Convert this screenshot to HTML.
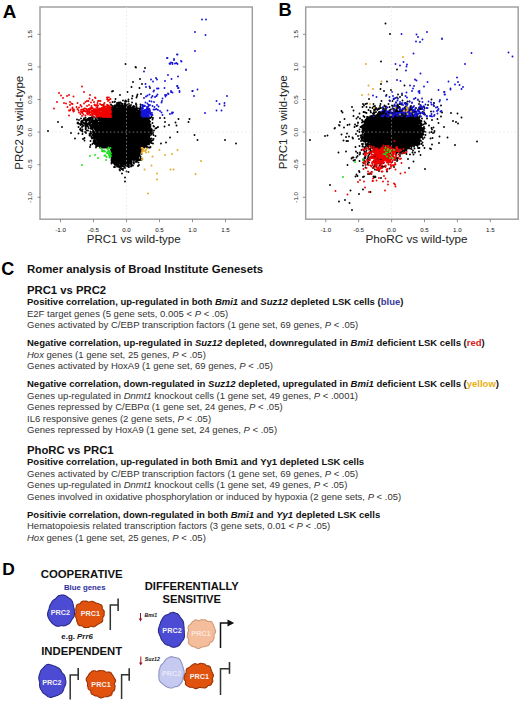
<!DOCTYPE html>
<html><head><meta charset="utf-8"><style>
html,body{margin:0;padding:0;background:#fff;}
body{width:520px;height:702px;position:relative;overflow:hidden;font-family:"Liberation Sans", sans-serif;}
svg.fig{position:absolute;left:0;top:0;font-family:"Liberation Sans", sans-serif;}
.l{position:absolute;left:27px;white-space:nowrap;line-height:1;color:#222;}
.l.h{font-size:11.3px;font-weight:bold;color:#111;}
.l.b{font-size:9.5px;font-weight:bold;color:#111;}
.l.r{font-size:9.5px;color:#333;}
.ttl{position:absolute;left:27px;top:263.85px;font-size:11.4px;font-weight:bold;line-height:1;white-space:nowrap;color:#111;}
</style></head><body>
<svg class="fig" width="520" height="702" viewBox="0 0 520 702"><rect x="40.0" y="7" width="212.3" height="212.2" fill="none" stroke="#9e9e9e" stroke-width="1.45"/><line x1="126.5" y1="7" x2="126.5" y2="219.2" stroke="#e2e2e2" stroke-width="0.8" stroke-dasharray="1.5,2.3"/><line x1="40.0" y1="132.1" x2="252.3" y2="132.1" stroke="#e2e2e2" stroke-width="0.8" stroke-dasharray="1.5,2.3"/><rect x="305.7" y="7" width="212.50000000000006" height="212.2" fill="none" stroke="#9e9e9e" stroke-width="1.45"/><line x1="391.6" y1="7" x2="391.6" y2="219.2" stroke="#e2e2e2" stroke-width="0.8" stroke-dasharray="1.5,2.3"/><line x1="305.7" y1="132.1" x2="518.2" y2="132.1" stroke="#e2e2e2" stroke-width="0.8" stroke-dasharray="1.5,2.3"/><path d="M116 105h4v1h-4zM125 105h1v1h-1zM115 106h1v1h-1zM117 106h6v1h-6zM124 106h1v1h-1zM129 106h1v1h-1zM112 107h1v1h-1zM114 107h1v1h-1zM118 107h7v1h-7zM128 107h3v1h-3zM133 107h1v1h-1zM112 108h4v1h-4zM117 108h9v1h-9zM127 108h8v1h-8zM136 108h1v1h-1zM112 109h22v1h-22zM112 110h23v1h-23zM112 111h23v1h-23zM138 111h2v1h-2zM112 112h24v1h-24zM137 112h3v1h-3zM112 113h17v1h-17zM130 113h11v1h-11zM112 114h16v1h-16zM131 114h10v1h-10zM112 115h17v1h-17zM130 115h10v1h-10zM112 116h28v1h-28zM111 117h30v1h-30zM89 118h1v1h-1zM98 118h47v1h-47zM146 118h1v1h-1zM88 119h2v1h-2zM99 119h49v1h-49zM86 120h1v1h-1zM92 120h1v1h-1zM95 120h1v1h-1zM100 120h48v1h-48zM91 121h6v1h-6zM101 121h48v1h-48zM89 122h1v1h-1zM92 122h6v1h-6zM100 122h43v1h-43zM145 122h4v1h-4zM86 123h1v1h-1zM93 123h49v1h-49zM146 123h1v1h-1zM148 123h1v1h-1zM85 124h3v1h-3zM93 124h50v1h-50zM145 124h1v1h-1zM149 124h1v1h-1zM85 125h1v1h-1zM92 125h55v1h-55zM148 125h2v1h-2zM91 126h55v1h-55zM147 126h2v1h-2zM92 127h1v1h-1zM94 127h51v1h-51zM148 127h2v1h-2zM95 128h51v1h-51zM147 128h3v1h-3zM96 129h55v1h-55zM96 130h55v1h-55zM93 131h1v1h-1zM95 131h56v1h-56zM94 132h56v1h-56zM151 132h1v1h-1zM90 133h1v1h-1zM94 133h55v1h-55zM94 134h55v1h-55zM93 135h56v1h-56zM94 136h55v1h-55zM94 137h55v1h-55zM96 138h53v1h-53zM97 139h53v1h-53zM94 140h1v1h-1zM97 140h52v1h-52zM94 141h1v1h-1zM98 141h52v1h-52zM94 142h2v1h-2zM97 142h52v1h-52zM96 143h52v1h-52zM97 144h50v1h-50zM99 145h47v1h-47zM100 146h45v1h-45zM111 147h31v1h-31zM112 148h29v1h-29zM112 149h29v1h-29zM112 150h29v1h-29zM112 151h28v1h-28zM112 152h28v1h-28zM112 153h27v1h-27zM112 154h27v1h-27zM112 155h27v1h-27zM112 156h26v1h-26zM112 157h26v1h-26zM112 158h23v1h-23zM136 158h1v1h-1zM112 159h20v1h-20zM137 159h1v1h-1zM112 160h19v1h-19zM137 160h1v1h-1zM113 161h18v1h-18zM114 162h17v1h-17zM115 163h4v1h-4zM120 163h9v1h-9zM116 164h2v1h-2zM121 164h2v1h-2zM125 164h3v1h-3zM117 165h2v1h-2zM120 165h1v1h-1zM127 165h2v1h-2z" fill="#000"/><path d="M104.5 117h0M117.5 166h0M123 168.5h0M98 138.5h0M99 119.5h0M94 136h0M133 159h0M148.5 134.5h0M147.5 144h0M106 147.5h0M111.5 151.5h0M107 118h0M138.5 153.5h0M99.5 146h0M111.5 108.5h0M144.5 117h0M131 164h0M141.5 117h0M112 146.5h0M98.5 145h0M106 147h0M94 132h0M127.5 115.5h0M146.5 119h0M143.5 122h0M142.5 125.5h0M111 111h0M143 121.5h0M146 130h0M132 102.5h0M124 163.5h0M102.5 118h0M151.5 138.5h0M148.5 119.5h0M98.5 117h0M132.5 159.5h0M108.5 147h0M104 118.5h0M110.5 118h0M136.5 107h0M126.5 110h0M137.5 113h0M149 141.5h0M108.5 118.5h0M110.5 146h0M119.5 169.5h0M150 147.5h0M135 111.5h0M136.5 110.5h0M132 159.5h0M92 122h0M146.5 122.5h0M137.5 155.5h0M129.5 115h0M112 155h0M135.5 158h0M143.5 124.5h0M124.5 167h0M111 104.5h0M149.5 129.5h0M141.5 124.5h0M146.5 122h0M149 139.5h0M128 107h0M112 159.5h0M137.5 157.5h0M134.5 159h0M101.5 121.5h0M111.5 113.5h0M130.5 116.5h0M93 130.5h0M116 109.5h0M143 124h0M93 125h0M131 115.5h0M95 140.5h0M94.5 137.5h0M140 111.5h0M111 147.5h0M131 108.5h0M94 142h0M130.5 160.5h0M107 118.5h0M120 166h0M111 118h0M116 162h0M112 109h0M121 165.5h0M148.5 133.5h0M136 110.5h0M123 107h0M132.5 165.5h0M145.5 129h0M143 147.5h0M144.5 125h0M108 118h0M111.5 115.5h0M111.5 110.5h0M149.5 138h0M147.5 119h0M127.5 114.5h0M125 163h0M145.5 126h0M95.5 128h0M140 113.5h0M112.5 158.5h0M105.5 146h0M149.5 140h0M117.5 166.5h0M141 149h0M92.5 119h0M134 107.5h0M146.5 147h0M132 98.5h0M95 144h0M150 132.5h0M130.5 108h0M139.5 151h0M100.5 123.5h0M138 154h0M112.5 148.5h0M146.5 123h0M96.5 131.5h0M93.5 132.5h0M141.5 154h0M151.5 133h0M112.5 115.5h0M119.5 105h0M141.5 124h0M101 119h0M114.5 105.5h0M132.5 108.5h0M125.5 164h0M149.5 129h0M95 137.5h0M112.5 147h0M104 147h0M135 113.5h0M128.5 164h0M138.5 162.5h0M118.5 109h0M113 149h0M144 122.5h0M119.5 162.5h0M144 145.5h0M149 138.5h0M144.5 122h0M112 117.5h0M114.5 162h0M146.5 125.5h0M101.5 121h0M129.5 115.5h0M111 108h0M106 146.5h0M148.5 135.5h0M138 154.5h0M129 116.5h0M101 122.5h0M141 117.5h0M141 160h0M97.5 146h0M120 170.5h0M113 108h0M138.5 159h0M134 163h0M111.5 160.5h0M119 162.5h0M150.5 125h0M148.5 133h0M150.5 147h0M93.5 132h0M150 125.5h0M102.5 146.5h0M139.5 153.5h0M142.5 123h0M144 145h0M125.5 109.5h0M140.5 149h0M147 146.5h0M147 130h0M134.5 108.5h0M142.5 124.5h0M93.5 135h0M123.5 164.5h0M148.5 140h0M147.5 121h0M142.5 118h0M147.5 127.5h0M152 131.5h0M117.5 105.5h0M105 146.5h0M146 145h0M122.5 107.5h0M95 127.5h0M134 160h0M131 159h0M93.5 141h0M98.5 118.5h0M98 141.5h0M110 118h0M110 117h0M94.5 136.5h0M134 161h0M112.5 159h0M125 101.5h0M108.5 147.5h0M141 150.5h0M101.5 120.5h0M135.5 111h0M148.5 132.5h0M126.5 171.5h0M127 114h0M114.5 108.5h0M130.5 117h0M111 109.5h0M149 126h0M130.5 163h0M89.5 135.5h0M145.5 128h0M121 106.5h0M118.5 162.5h0M127 114.5h0M149.5 128h0M137 159.5h0M96.5 139h0M139 111h0M142 117.5h0M116 164h0M140.5 111.5h0M112 156h0M113 110h0M107.5 119h0M127.5 163h0M144 121h0M106.5 147.5h0M112 150h0M125.5 108h0M118.5 164h0M114 107h0M107 147h0M128.5 112.5h0M144.5 121.5h0M148 133.5h0M134.5 112.5h0M138 160h0M96 138h0M127 107.5h0M127 115.5h0M95.5 131.5h0M149.5 134h0M97 143h0M148 125.5h0M103 118h0M113 150.5h0M144 125h0M140 118.5h0M111.5 148h0M130.5 161.5h0M140.5 148h0M140 111h0M92 127.5h0M112.5 157.5h0M141 122.5h0M97 145h0M109 146.5h0M121 164.5h0M144.5 147.5h0M129 104h0M145.5 125.5h0M98 146h0M112 112h0M145 122h0M129.5 163h0M133.5 109.5h0M112.5 102h0M130.5 115.5h0M129 165.5h0M107.5 117.5h0M146 124h0M99.5 144.5h0M125 107h0M100 122.5h0M125 104h0M131 161h0M128.5 162.5h0M139.5 117h0M154 126.5h0M130.5 108.5h0M148.5 124.5h0M116 105.5h0M149 144.5h0M92.5 138h0M112 149h0M96.5 128h0M108 117.5h0M111 156h0M104.5 147.5h0M151 132h0M110 147h0M133 107h0M115 106h0M101 120.5h0M150.5 133h0M120.5 102.5h0M138 111h0M105.5 118.5h0M141.5 147.5h0M150 135.5h0M131.5 159.5h0M112.5 113.5h0M128 106.5h0M144 147.5h0M142 118.5h0M136 112.5h0M96 141h0M134.5 110.5h0M99.5 119.5h0M149 144h0M120 163.5h0M105.5 147.5h0M93 127h0M119 107h0M110 146h0M94 140h0M143 118.5h0M124 106h0M111 150h0M148 143.5h0M97 140.5h0M93.5 134.5h0M136 104.5h0M93.5 133h0M106 118.5h0M140 108.5h0M148 126.5h0M127 110h0M126.5 101h0M146 122.5h0M127.5 109h0M108.5 118h0M97 140h0M128.5 106.5h0M131.5 115h0M116 106.5h0M139 154h0M153 143.5h0M142.5 123.5h0M149.5 122.5h0M108 147h0M118.5 165h0M115 109h0M102.5 119h0M149 125.5h0M112 110h0M112 113h0M145 128.5h0M150.5 127h0M112 109.5h0M140.5 115.5h0M136.5 113.5h0M92.5 135h0M107.5 147h0M131 113h0M118 164h0M97.5 122h0M96 143.5h0M146 129.5h0M147 144.5h0M140 149.5h0M92 129h0M141.5 146.5h0M112.5 113h0M105.5 117.5h0M130.5 114.5h0M134.5 111.5h0M104 146.5h0M112.5 156.5h0M149 139h0M121.5 169h0M113.5 162h0M141.5 118.5h0M149.5 121h0M121.5 106h0M147.5 143h0M132 108.5h0M153.5 139h0M96 144h0M121 167.5h0M95 142h0M112.5 108.5h0M111.5 149h0M101 118.5h0M114 162h0M112.5 153h0M118 107h0M100 120.5h0M147 123h0M140.5 114h0M101.5 122h0M111.5 162.5h0M129.5 162.5h0M96 129.5h0M111.5 112.5h0M128.5 114h0M151 129.5h0M129.5 106h0M122.5 104h0M111.5 150.5h0M107.5 146.5h0M106.5 147h0M94 138h0M120 163h0M112 150.5h0M148.5 121h0M125 164.5h0M144 126.5h0M137.5 111h0M130.5 162h0M147.5 118.5h0M113 147.5h0M111 154h0M89.5 134h0M101 123h0M148.5 137h0M142.5 147h0M100 117.5h0M111.5 159h0M131 161.5h0M114 161h0M134 110.5h0M135.5 112.5h0M130 106h0M143.5 121h0M109.5 146.5h0M117 109h0M136 113.5h0M151.5 141h0M100 146h0M104.5 147h0M128 108.5h0M129.5 112.5h0M139 110.5h0M146.5 128.5h0M120 102.5h0M140.5 115h0M149.5 133.5h0M148.5 139.5h0M95.5 130h0M140.5 109h0M140.5 152.5h0M111.5 116.5h0M149.5 124.5h0M144.5 127h0M126.5 165.5h0M129 115h0M125.5 164.5h0M106 117.5h0M150 129h0M141.5 123h0M148.5 142.5h0M150 126h0M140 152h0M94.5 135h0M100 120h0M117 103h0M139.5 150.5h0M112.5 152.5h0M126 101.5h0M136.5 161.5h0M111.5 153.5h0M139.5 160h0M131.5 113h0M101 122h0M129 112.5h0M100 119h0M151 132.5h0M131.5 113.5h0M111.5 150h0M115 106.5h0M132.5 107h0M146 124.5h0M139.5 152.5h0M92 126.5h0M141 152.5h0M152 130h0M112.5 151.5h0M112 153.5h0M102 147.5h0M144.5 146.5h0M100 147.5h0M111.5 114h0M120.5 163.5h0M99.5 117.5h0M92.5 144h0M112.5 151h0M118.5 102.5h0M128.5 115h0M139.5 114.5h0M92 120.5h0M128.5 167h0M98.5 119.5h0M136 158h0M91 132h0M136.5 161h0M114 167h0M96 146h0M107.5 118h0M153 133h0M143.5 119h0M124 166.5h0M128 113h0M127 108h0M111.5 163.5h0M149 132.5h0M91.5 136.5h0M109.5 147.5h0M151.5 134.5h0M96.5 143h0M138 113h0M116.5 165h0M96.5 138h0M114.5 107h0M94.5 136h0M142 124.5h0M110.5 119h0M127.5 164.5h0M120.5 164.5h0M98 117.5h0M107 146h0M147 118h0M91.5 137h0M133.5 106h0M130.5 107h0M144 122h0M111.5 147h0M95.5 129.5h0M138.5 112.5h0M141 148.5h0M95 126.5h0M111.5 148.5h0M146 123h0M149 138h0M131.5 162h0M102.5 147h0M137 156h0M114.5 164h0M92 124.5h0M149.5 136h0M127 164h0M121 166.5h0M127.5 166h0M112.5 150.5h0M94.5 139.5h0M112.5 111h0M137 110h0M144 118.5h0M131.5 161.5h0M129 106h0M136.5 107.5h0M122.5 163.5h0M126.5 105h0M143.5 146.5h0M97.5 122.5h0M145.5 144h0M98 142.5h0M147.5 142.5h0M147.5 123.5h0M140 116h0M140.5 150h0M136 110h0M131 115h0M112.5 161.5h0M114.5 163h0M127 104.5h0M131 112.5h0M122.5 165.5h0M101.5 147.5h0M113 159h0M141 150h0M134.5 112h0M127.5 113.5h0M113 160.5h0M147 126h0M119 167h0M103.5 147.5h0M153.5 135h0M148 128h0M112.5 150h0M131 113.5h0M105 147h0M136.5 110h0M125 103.5h0M127 165.5h0M138.5 111.5h0M142 125h0M145.5 119h0M121.5 165h0M112 111.5h0M137.5 114h0M128.5 107.5h0M140 152.5h0M121 163.5h0M124.5 104h0M110 146.5h0M139.5 155.5h0M96 147.5h0M122.5 166h0M135 110.5h0M91.5 127h0M120.5 165.5h0M127 163.5h0M144.5 128.5h0M136 113h0M111.5 157h0M144 118h0M116 107h0M112 148h0M120.5 162.5h0M98.5 144.5h0M91.5 117.5h0M154 130.5h0M132 114.5h0M102.5 147.5h0M116.5 110h0M118.5 107h0M148.5 117.5h0M133 159.5h0M126.5 109h0M142.5 118.5h0M147 128.5h0M147 129.5h0M118.5 104.5h0M112 114h0M96 138.5h0M135.5 108.5h0M112.5 152h0M130 162.5h0M145.5 128.5h0M131.5 115.5h0M150 139.5h0M112 147h0M139.5 154h0M148.5 142h0M110.5 117h0M148 134.5h0M147.5 122h0M141 116.5h0M129.5 116.5h0M142 146.5h0M140.5 116.5h0M116.5 164.5h0M138.5 156h0M145.5 122h0M134 158.5h0M127 108.5h0M103.5 118.5h0M136 158.5h0M95 134h0M137 113.5h0M109 147h0M128.5 114.5h0M138.5 157h0M125 105.5h0M102 121h0M139 115h0M138 156.5h0M155.5 128.5h0M149 133.5h0M134 112h0M120.5 163h0M145.5 129.5h0M112 154h0M144 147h0M137.5 112.5h0M99.5 124h0M145 124h0M102 119h0M134.5 106.5h0M131.5 160h0M131.5 161h0M143.5 122.5h0M108.5 117.5h0M145.5 126.5h0M111.5 154h0M146 143.5h0M101.5 147h0M104.5 146h0M149.5 121.5h0M127.5 107h0M122 105.5h0M124 107.5h0M150.5 124.5h0M149.5 126.5h0M136 160h0M98 123h0M127.5 113h0M117.5 106h0M93.5 121h0M120 105h0M128 117h0M131.5 114h0M138 156h0M115 164h0M125 168h0M99.5 144h0M111.5 160h0M112.5 162.5h0M149 140.5h0M123 170h0M141 118.5h0M116.5 164h0M143.5 121.5h0M91.5 137.5h0M147.5 126.5h0M119 106h0M125 164h0M97.5 140h0M122.5 105h0M146 128.5h0M139.5 109h0M131 108h0M112 160.5h0M112.5 110.5h0M134 110h0M113.5 108h0M138.5 160h0M97 123.5h0M146 144h0M124.5 108.5h0M137 108.5h0M112.5 116h0M141.5 151h0M113 155h0M136 161h0M113 161.5h0M150.5 140h0M133.5 159.5h0M111.5 115h0M146.5 146h0M144.5 127.5h0M121.5 105.5h0M152 132.5h0M96.5 131h0M113 112.5h0M152.5 119.5h0M145 146h0M100 123.5h0M94.5 142h0M137.5 156h0M132 165.5h0M149 120h0M113 117.5h0M143 122h0M149 147.5h0M106 146h0M93.5 122.5h0M139 155.5h0M97 121h0M144 128.5h0M97.5 142.5h0M98.5 123h0M107 117.5h0M110.5 117.5h0M107.5 147.5h0M137.5 112h0M125.5 163.5h0M96 131.5h0M122.5 163h0M146 118.5h0M114 163.5h0M147 121.5h0M131 116.5h0M145.5 124h0M111.5 152h0M103 119h0M120 107h0M116.5 109.5h0M130 116.5h0M99.5 123.5h0M100.5 118.5h0M147 126.5h0M130.5 160h0M111.5 147.5h0M136 159.5h0M112.5 155h0M129 165h0M127.5 115h0M140.5 119h0M133 108.5h0M116 108h0M134 109.5h0M137 157.5h0M140.5 158h0M145 117h0M131.5 164.5h0M127 109.5h0M115 165h0M90.5 145h0M139 155h0M131 165h0M140 112h0M148.5 121.5h0M105.5 117h0M140.5 150.5h0M135 112h0M128.5 166h0M95 132h0M150 139h0M144 127h0M119.5 106h0M139 153h0M97.5 144.5h0M139.5 154.5h0M99.5 145.5h0M112 152.5h0M126 108.5h0M112.5 108h0M142 126h0M117 166h0M110.5 147h0M148.5 127.5h0M142.5 124h0M95.5 120.5h0M125 106.5h0M121.5 164.5h0M148.5 123.5h0M109.5 118h0M114.5 108h0M108 117h0M92 127h0M98.5 142.5h0M139.5 116.5h0M149 122h0M117 104.5h0M94 138.5h0M153 132.5h0M149.5 132h0M99.5 120.5h0M148 126h0M98.5 143h0M111 119h0M95.5 141h0M145 145.5h0M137.5 108.5h0M124 108.5h0M123.5 163h0M120.5 168h0M129 162h0M130.5 115h0M148 117h0M92.5 122.5h0M132 115.5h0M134 159.5h0M131 160h0M130 112.5h0M134.5 158h0M111 147h0M147.5 147.5h0M144 117h0M98.5 123.5h0M111.5 117.5h0M131.5 114.5h0M142.5 121.5h0M111 117h0M112.5 106h0M131.5 160.5h0M96.5 120h0M112 117h0M112.5 147.5h0M111 118.5h0M115.5 106.5h0M146.5 123.5h0M103.5 146.5h0M140 150.5h0M115 108h0M91 133.5h0M129.5 113h0M125 106h0M99.5 118.5h0M126.5 109.5h0M112 151h0M116.5 104.5h0M140.5 118h0M149.5 135h0M125.5 106.5h0M112 112.5h0M144 124.5h0M136.5 158.5h0M151.5 143h0M116 163h0M112.5 115h0M97 130h0M118 108.5h0M149.5 126h0M126 104.5h0M133 165.5h0M92.5 124.5h0M94 143h0M93.5 136.5h0M96 132h0M124.5 107.5h0M150 142.5h0M97.5 121h0M144 128h0M153 140h0M140 114h0M142 123.5h0M133.5 162.5h0M145.5 145h0M113 107.5h0M141 123.5h0M122.5 105.5h0M112.5 149h0M151.5 117h0M114 161.5h0M125.5 165.5h0M150.5 130.5h0M112 111h0M148.5 132h0M144.5 119h0M134 163.5h0M128.5 101.5h0M97.5 139.5h0M140 148.5h0M129 167h0M143 147h0M138.5 154.5h0M120 162h0M111.5 105.5h0M111 149.5h0M112.5 149.5h0M98 122.5h0M117 164.5h0M117.5 108.5h0M119.5 104h0M112.5 148h0M144.5 147h0M133 108h0M122 164.5h0M144 146.5h0M121.5 103.5h0M143.5 117.5h0M127.5 108h0M90.5 141h0M118 165.5h0M139.5 151.5h0M108 147.5h0M136 103.5h0M166 142.5h0M136.5 105h0M115 167h0M127.5 163.5h0M141 159h0M140.5 107h0M151 139h0M122 164h0M101 147h0M125 181.5h0M132.5 96h0M93.5 143h0M151.5 130.5h0M156.5 128h0M150 121.5h0M90.5 126h0M149.5 127h0M153 118h0M119 106.5h0M138 166h0M145.5 125h0M131 166.5h0M135.5 110.5h0M113 91h0M86 124h0M127.5 165h0M164.5 126.5h0M131 105h0M136 108.5h0M123 164h0M115.5 99h0M122 173.5h0M136 162h0M123 100.5h0M139 165h0M113 157h0M103 146.5h0M90 135.5h0M122 106.5h0M105.5 118h0M85.5 127h0M129 163h0M112.5 160h0M128.5 172h0M150 142h0M147 117.5h0M87.5 119.5h0M141 115h0M117 166.5h0M128.5 99.5h0M123.5 107.5h0M148.5 136.5h0M112 152h0M131.5 87h0M100 122h0M94 141h0M131.5 163h0M115 101.5h0M151.5 129h0M136.5 160.5h0M137 96h0M101.5 122.5h0M160 118h0M99 123h0M112.5 159.5h0M94 117h0M93.5 117.5h0M138 158h0M147 124h0M145 118.5h0M152.5 123h0M112 157.5h0M165 122h0M95.5 121h0M113 116.5h0M86 133h0M84.5 140.5h0M125.5 100.5h0M90 121.5h0M111.5 113h0M158 127h0M98.5 141h0M164.5 118h0M155.5 136h0M112.5 107h0M140.5 156.5h0M147 142h0M105 118.5h0M139 116.5h0M128.5 117h0M153.5 126h0M148.5 120h0M90 147h0M125 177.5h0M127.5 92h0M150 124.5h0M117 163h0M137 161.5h0M130 107h0M91.5 133.5h0M111.5 110h0M106 117h0M106.5 117h0M101.5 117.5h0M101.5 117h0M105 117h0M114.5 102h0M111.5 108h0M112 108h0M112.5 116.5h0M110 118.5h0M111 115.5h0M104 117.5h0M109 118.5h0M111 113.5h0M110 117.5h0M112 116.5h0M112.5 114h0M111.5 111.5h0M111.5 109h0M112.5 114.5h0M111.5 117h0M106.5 117.5h0M112 91.5h0M102.5 117h0M112 116h0M103.5 117.5h0M97 117.5h0M100.5 119h0M94 121.5h0M97 122h0M89 118h0M102 118.5h0M88 126.5h0M88.5 128h0M83 126h0M87 120.5h0M98.5 118h0M88 120h0M86 123h0M92.5 121h0M90 123h0M93 122.5h0M88.5 124h0M94 124h0M86 119.5h0M79 120h0M98 118.5h0M92 121h0M89.5 121h0M90 125.5h0M95.5 118.5h0M90 118h0M99 118.5h0M90.5 126.5h0M96 122h0M85.5 126h0M92 118h0M93.5 123h0M85.5 121h0M89 122.5h0M92.5 128.5h0M85 123h0M90.5 118h0M93.5 120.5h0M78 122.5h0M92.5 121.5h0M88.5 119h0M93.5 133.5h0M91.5 120.5h0M92 128h0M92.5 125h0M90.5 125h0M96.5 117.5h0M92.5 125.5h0M91.5 121h0M109.5 117.5h0M95.5 119.5h0M83 120.5h0M95 127h0M96.5 120.5h0M87.5 124.5h0M88 130.5h0M94 126.5h0M102 117h0M81.5 121h0M94.5 126.5h0M90 119.5h0M93 121h0M98.5 119h0M87 123.5h0M92 117h0M84 118.5h0M90.5 123h0M93.5 125.5h0M85 124h0M91 121.5h0M95 120.5h0M100.5 117.5h0M98.5 120h0M89.5 118h0M106.5 118h0M85.5 117.5h0M82.5 121.5h0M93.5 127.5h0M85.5 125.5h0M101 121.5h0M100.5 119.5h0M87 124.5h0M96.5 122.5h0M78.5 127h0M87 125h0M99 123.5h0M102 117.5h0M90.5 131.5h0M78 123.5h0M85.5 129h0M81 118.5h0M81 122h0M90 134.5h0M87 126h0M80.5 128.5h0M82.5 131.5h0M86.5 122h0M89.5 125h0M94 131.5h0M78.5 123.5h0M85 132h0M96 121.5h0M77 119.5h0M92 138.5h0M80.5 125h0M75 138.5h0M94.5 129h0M90.5 119.5h0M82.5 134h0M80 129.5h0M84.5 138h0M81 130.5h0M82 124.5h0M90.5 128.5h0M81 124.5h0M84.5 119.5h0M81.5 123.5h0M90.5 132h0M85 120h0M92.5 132h0M78.5 133.5h0M82 127h0M84 123.5h0M86.5 130.5h0M83 122.5h0M82.5 129.5h0M83.5 125.5h0M77.5 123h0M83.5 120h0M87.5 119h0M141 113.5h0M139.5 114h0M141 108.5h0M143 117.5h0M141 115.5h0M140.5 106.5h0M145.5 118h0M141.5 114.5h0M139.5 110h0M147.5 117.5h0M144.5 117.5h0M146.5 120h0M140.5 104.5h0M139 108.5h0M150 117.5h0M141 112h0M140 112.5h0M149.5 118h0M150.5 118h0M143 117h0M150 118h0M140 116.5h0M192.5 91h0M136 67.5h0M140 79h0M142 84h0M139.5 88h0M137.5 94.5h0M141 94h0M136.5 97.5h0M178.5 119h0M175.5 122.5h0M176.5 125.5h0M189.5 119h0M188.5 122h0M169 125h0M177.5 132h0M194.5 135h0M197.5 140h0M170 137.5h0M161 143.5h0M225 140h0M236 143.5h0M125.5 64h0M135.5 67h0M48 131h0M62 127h0M58 122h0M71 133h0M80 124h0M83 139h0M86 128h0M145 68h0M133 82h0M120 95h0M150 88h0" stroke="#000" stroke-width="1.9" stroke-linecap="round" fill="none"/><path d="M102 105h1v1h-1zM107 106h2v1h-2zM107 107h3v1h-3zM102 108h1v1h-1zM104 108h1v1h-1zM106 108h4v1h-4zM99 109h1v1h-1zM101 109h9v1h-9zM94 110h1v1h-1zM98 110h1v1h-1zM102 110h8v1h-8zM93 111h1v1h-1zM97 111h2v1h-2zM102 111h8v1h-8zM94 112h1v1h-1zM96 112h4v1h-4zM101 112h9v1h-9zM95 113h15v1h-15zM96 114h14v1h-14zM96 115h14v1h-14z" fill="#f00000"/><path d="M102.5 113h0M103.5 116.5h0M109.5 113.5h0M101.5 113.5h0M104.5 109.5h0M109 106h0M107 116.5h0M107.5 116.5h0M107.5 117h0M109.5 108.5h0M105.5 115h0M101 116h0M108.5 107h0M97.5 115.5h0M109.5 112.5h0M110.5 112h0M98.5 110h0M109 114h0M102.5 111h0M110.5 114.5h0M111 115.5h0M108 115h0M105.5 116h0M108 116.5h0M106.5 116.5h0M110 111h0M109.5 113h0M110.5 111.5h0M105 117h0M101 112.5h0M110 107.5h0M110 112.5h0M110.5 113h0M104.5 106.5h0M110 113h0M104.5 117h0M109.5 111h0M109 115.5h0M104 116.5h0M100 110h0M99.5 115.5h0M107.5 108.5h0M105 107h0M110 113.5h0M102 116.5h0M110.5 116.5h0M102.5 116.5h0M96.5 117h0M100.5 116.5h0M110.5 116h0M105.5 116.5h0M98 116h0M110.5 107h0M110 110h0M107 108.5h0M109.5 114h0M109.5 115h0M110.5 108h0M110.5 109h0M110 112h0M109 110.5h0M104.5 110h0M110 115h0M100 112.5h0M106 109.5h0M109 117h0M103 116h0M93.5 117h0M106 115h0M106 115.5h0M110 108.5h0M109 115h0M106 116.5h0M110 109.5h0M111 117h0M107.5 116h0M107 117h0M111 111.5h0M108.5 115.5h0M99.5 116h0M103 117h0M109.5 115.5h0M103 105.5h0M96.5 115.5h0M102 110.5h0M106.5 109h0M103.5 115.5h0M103 107.5h0M110 116h0M110.5 108.5h0M111 112.5h0M108.5 117h0M109.5 111.5h0M109 116.5h0M110 116.5h0M101 115h0M110.5 113.5h0M92 111.5h0M97.5 107h0M100 113h0M106.5 117h0M107.5 97.5h0M107.5 105h0M95.5 98h0M95 109.5h0M100.5 113.5h0M85.5 115.5h0M103.5 116h0M95.5 105.5h0M102 110h0M108.5 100h0M92 113.5h0M102 116h0M95 111h0M95 105h0M98 116.5h0M96.5 113h0M81 112h0M109.5 116h0M110.5 115h0M108 101h0M95.5 114.5h0M100.5 101h0M90.5 108h0M108.5 116.5h0M86 111h0M107.5 107.5h0M101.5 108h0M94.5 104.5h0M110.5 117h0M110 107h0M104.5 116h0M98 105.5h0M99 113.5h0M54 108.5h0M107 107.5h0M85.5 111.5h0M74 109.5h0M99.5 113.5h0M98 115h0M93 108.5h0M103 107h0M82.5 113h0M97.5 116h0M103 109.5h0M107.5 108h0M104.5 115.5h0M97.5 103h0M66 103.5h0M97 105h0M103.5 106h0M86.5 111.5h0M109 105.5h0M71.5 103.5h0M93.5 111.5h0M77.5 109h0M96 110.5h0M73 110.5h0M96.5 111h0M84.5 111h0M102.5 110.5h0M98 110h0M99 111h0M109 114.5h0M100 109.5h0M64 103h0M83.5 114.5h0M92 107.5h0M98 111h0M109 97.5h0M98 111.5h0M74 111h0M104 109h0M104 104h0M67.5 107h0M109 100h0M97 113.5h0M102.5 110h0M109.5 110h0M110 115.5h0M107.5 106h0M83.5 110.5h0M109 108.5h0M88 113h0M98 101h0M104.5 108h0M97 111h0M87 113.5h0M108 115.5h0M94 110h0M93.5 113.5h0M86.5 109h0M111 106.5h0M87 101h0M102.5 116h0M110 102.5h0M81.5 106.5h0M89.5 110h0M93 110.5h0M101 113h0M90 112h0M111 111h0M106.5 116h0M95 109h0M104.5 103h0M79 107.5h0M83.5 111h0M101.5 105h0M91.5 106h0M93 111.5h0M70 105h0M90 108.5h0M82.5 112h0M88.5 109h0M102 105h0M99 109h0M105.5 115.5h0M92 108h0M100.5 112.5h0M105.5 109h0M98 112.5h0M72.5 107.5h0M97.5 110.5h0M99.5 112.5h0M94 113h0M89.5 113h0M100.5 109.5h0M104 116h0M96.5 110h0M99 116h0M100.5 113h0M110.5 115.5h0M101 110h0M105 116.5h0M99 110.5h0M106 110h0M88 113.5h0M70 110.5h0M87 112h0M90.5 115h0M94 113.5h0M103.5 105.5h0M99 109.5h0M102 113h0M89.5 98.5h0M109 108h0M106 116h0M111 116.5h0M92.5 115h0M101.5 116h0M91.5 112.5h0M88 111h0M111 112h0M69 110.5h0M109 111h0M91.5 110.5h0M107.5 107h0M100 113.5h0M84 109h0M95.5 109.5h0M85.5 102h0M101.5 110.5h0M104 109.5h0M102.5 115.5h0M96.5 116h0M103.5 109.5h0M100 112h0M109.5 110.5h0M107 106.5h0M100 104h0M81 111.5h0M82 109.5h0M93 115h0M97.5 108.5h0M103.5 115h0M89 105h0M85 108.5h0M84.5 108.5h0M90.5 112.5h0M102.5 109.5h0M95 112.5h0M94 102h0M105.5 110h0M107 107h0M81 110h0M83 109.5h0M96.5 107.5h0M102 112.5h0M99.5 108.5h0M102.5 105h0M92.5 100h0M90.5 109h0M101 108.5h0M91 102.5h0M107 97.5h0M87.5 110.5h0M103 108.5h0M105 108.5h0M110.5 99h0M84 103.5h0M107 105h0M89.5 112h0M103 111.5h0M94.5 105h0M105 116h0M107 108h0M90 115h0M109.5 114.5h0M95.5 112.5h0M72.5 108.5h0M79 112.5h0M105.5 106.5h0M110.5 114h0M87 106h0M106 109h0M96 115.5h0M92 115h0M96 114.5h0M95 114.5h0M100.5 115.5h0M88 114.5h0M98.5 115h0M82 116h0M80.5 114h0M82 86.5h0M84 92h0M59 93h0M61 95.5h0M63 98h0M67 96h0M69 95h0M73.5 96.5h0M57 102h0M90 95h0M95 97.5h0M99 101h0M107 99h0M70 102h0M72.5 104h0M77.5 103h0M80.5 105h0M88.5 101h0M70.5 109.5h0M73.5 111.5h0M69 115.5h0M76.5 107h0M78.5 110.5h0" stroke="#f00000" stroke-width="1.9" stroke-linecap="round" fill="none"/><path d="M147 108h1v1h-1zM146 109h3v1h-3zM144 110h6v1h-6zM142 111h8v1h-8zM143 112h7v1h-7zM142 113h5v1h-5zM150 113h1v1h-1zM142 114h4v1h-4zM142 115h5v1h-5z" fill="#1414d8"/><path d="M146.5 115.5h0M142.5 112h0M146 116h0M145 116.5h0M146 114.5h0M146 115.5h0M142 112h0M148 116h0M142.5 110.5h0M150.5 112.5h0M142 116h0M142 115.5h0M142.5 115h0M142.5 116.5h0M143.5 106.5h0M146.5 115h0M142 115h0M142 112.5h0M142 113.5h0M147 115.5h0M143.5 116.5h0M143 113.5h0M142 110.5h0M143.5 116h0M141.5 115h0M142.5 111.5h0M148.5 114h0M143.5 113.5h0M155 109.5h0M144.5 110h0M147 107h0M148.5 117h0M145.5 114.5h0M143 116.5h0M148.5 112.5h0M149 109h0M145 114h0M144.5 111h0M150.5 114.5h0M148.5 109h0M146.5 116h0M147.5 113h0M141.5 108.5h0M150 112.5h0M148 116.5h0M150.5 113h0M144.5 115.5h0M143 114h0M148.5 106.5h0M147.5 112.5h0M142.5 113h0M146 109.5h0M153.5 109.5h0M144 116h0M150 113.5h0M152 113h0M141.5 110.5h0M146 113h0M143 112h0M150 110.5h0M143.5 112h0M148.5 110h0M148 108.5h0M147 108.5h0M149.5 109h0M149 110h0M142.5 116h0M147 115h0M150 111.5h0M146 116.5h0M146.5 114h0M149 116h0M142 105h0M142.5 114.5h0M146.5 113h0M145.5 110.5h0M148 115.5h0M145.5 113.5h0M145 115.5h0M151.5 115h0M149.5 111h0M147.5 109h0M143.5 111.5h0M147 108h0M145.5 116h0M145 106h0M148 113h0M144 111h0M143 108.5h0M144 105.5h0M145 110.5h0M145.5 114h0M144 116.5h0M146.5 111h0M142.5 107h0M141.5 114h0M145.5 115h0M143.5 111h0M142.5 105h0M142 108h0M152.5 115h0M147.5 107.5h0M145 111.5h0M148.5 113h0M147.5 108h0M148.5 105h0M202 19.5h0M206 19.5h0M195 32h0M205.5 35h0M195 51h0M177 54.5h0M167 58h0M174 60h0M170 64h0M172.5 64h0M176.5 63h0M181 61h0M186 69.5h0M192.5 91h0M197.5 89.5h0M194 96h0M227 96h0M216.5 101h0M219.5 104h0M224.5 103h0M224.5 105.5h0M216.5 110.5h0M221.5 110.5h0M205 113h0M172 112.5h0M170 114h0M178 88h0M179.5 91h0M177.5 86h0M171 92h0M168 93.5h0M165 95h0M177.5 54.5h0M167.5 58h0M174 59h0M181.5 61.5h0M169.5 63.5h0M171 62.5h0M172.5 63h0M175 63.5h0M177.5 64h0M186 70h0M144 71.5h0M168 75h0M178 76.5h0M156 78h0M157 79.5h0M151 79.5h0M153 81.5h0M171.5 79h0M165 81h0M145.5 84h0M149.5 86.5h0M146 87h0M157 88.5h0M158.5 88.5h0M164.5 88h0M177 86h0M178.5 88h0M154 90.5h0M153.5 91.5h0M171 91h0M172.5 92.5h0M179.5 92h0M168.5 94h0M166.5 95h0M165.5 96.5h0M149.5 94.5h0M147.5 95.5h0M146 96.5h0M144 98h0M157.5 94.5h0M156.5 96h0M155 97h0M162.5 98.5h0M162 101h0M161.5 102.5h0M152.5 96h0M151.5 97.5h0M149.5 101h0M151.5 101.5h0M154 102h0M145.5 102.5h0M147.5 103.5h0M150 105h0M152.5 106h0M154.5 107h0M156.5 109h0M158 110h0M160 111h0M161.5 112.5h0M157 105h0M158.5 106.5h0M167.5 110.5h0M173 112.5h0M172 113.5h0M162.5 115h0" stroke="#1414d8" stroke-width="1.9" stroke-linecap="round" fill="none"/><path d="M106 160h0M102 150h0M104 150.5h0M109.5 157.5h0M110 153h0M109.5 153h0M109.5 156h0M104.5 155.5h0M106.5 157h0M109.5 151.5h0M100.5 148h0M107.5 152h0M111 156h0M109 150.5h0M107.5 149.5h0M105 151.5h0M108.5 147.5h0M110.5 148h0M111 153.5h0M110.5 155.5h0M103 151.5h0M102 151h0M108 148.5h0M108.5 153.5h0M109 151h0M110.5 153h0M110 157h0M105.5 155.5h0M107 153h0M98 158h0M107.5 149h0M109 155h0M110 155.5h0M109 154h0M90 156h0M95 155h0M82 165h0" stroke="#18e018" stroke-width="1.9" stroke-linecap="round" fill="none"/><path d="M142 148h0M141.5 153h0M142 151.5h0M141.5 153.5h0M143.5 149h0M147 148.5h0M142.5 158.5h0M142 159.5h0M142.5 150h0M146 150h0M146 152.5h0M142.5 151h0M142.5 159.5h0M141.5 148h0M142 153.5h0M143 151h0M142.5 148h0M143 149.5h0M142 151h0M145 151h0M148.5 152h0M159.5 150h0M165 155h0M172 154h0M177.5 150h0M151.5 165.5h0M144.5 169.5h0M157 173.5h0M157 179.5h0M170.5 169.5h0M173.5 169.5h0M195.5 174h0M201 161h0M148 193.5h0M152.5 156.5h0" stroke="#e4a820" stroke-width="1.9" stroke-linecap="round" fill="none"/><path d="M396 110h1v1h-1zM410 110h1v1h-1zM384 111h1v1h-1zM389 111h1v1h-1zM396 111h2v1h-2zM384 112h2v1h-2zM387 112h4v1h-4zM395 112h5v1h-5zM403 112h1v1h-1zM405 112h2v1h-2zM379 113h2v1h-2zM385 113h9v1h-9zM395 113h4v1h-4zM402 113h1v1h-1zM406 113h4v1h-4zM379 114h4v1h-4zM384 114h9v1h-9zM396 114h4v1h-4zM401 114h2v1h-2zM407 114h4v1h-4zM373 115h1v1h-1zM378 115h16v1h-16zM395 115h9v1h-9zM406 115h4v1h-4zM371 116h40v1h-40zM369 117h3v1h-3zM373 117h42v1h-42zM368 118h3v1h-3zM374 118h42v1h-42zM417 118h1v1h-1zM367 119h5v1h-5zM373 119h46v1h-46zM366 120h54v1h-54zM365 121h56v1h-56zM365 122h55v1h-55zM366 123h52v1h-52zM420 123h1v1h-1zM367 124h50v1h-50zM421 124h1v1h-1zM364 125h1v1h-1zM366 125h52v1h-52zM420 125h1v1h-1zM362 126h58v1h-58zM362 127h59v1h-59zM363 128h59v1h-59zM423 128h1v1h-1zM363 129h60v1h-60zM363 130h60v1h-60zM362 131h61v1h-61zM364 132h58v1h-58zM365 133h58v1h-58zM365 134h58v1h-58zM365 135h57v1h-57zM365 136h57v1h-57zM364 137h56v1h-56zM364 138h55v1h-55zM365 139h54v1h-54zM364 140h55v1h-55zM365 141h1v1h-1zM368 141h50v1h-50zM369 142h49v1h-49zM370 143h49v1h-49zM367 144h1v1h-1zM369 144h45v1h-45zM417 144h1v1h-1zM367 145h1v1h-1zM370 145h40v1h-40zM411 145h1v1h-1zM371 146h11v1h-11zM383 146h26v1h-26zM374 147h2v1h-2zM377 147h4v1h-4zM385 147h22v1h-22zM380 148h1v1h-1zM386 148h7v1h-7zM395 148h4v1h-4zM400 148h6v1h-6zM381 149h1v1h-1zM387 149h5v1h-5zM396 149h2v1h-2zM402 149h3v1h-3zM388 150h2v1h-2zM396 150h1v1h-1zM384 151h1v1h-1zM387 151h2v1h-2zM375 152h1v1h-1zM378 152h1v1h-1zM383 152h1v1h-1zM387 152h1v1h-1zM391 153h1v1h-1zM372 157h1v1h-1zM386 157h1v1h-1z" fill="#000"/><path d="M417.5 140h0M409.5 116h0M371 120h0M395.5 115.5h0M365.5 136h0M371 116.5h0M417.5 141h0M390.5 152.5h0M368.5 148h0M414 146h0M362.5 125.5h0M404 115.5h0M368 146h0M378.5 116.5h0M385.5 114.5h0M374.5 119.5h0M373 147h0M360.5 127h0M375 118.5h0M424 128.5h0M407 116.5h0M400.5 112.5h0M413.5 143h0M406 111.5h0M413 116h0M382 114.5h0M417.5 126h0M412 113.5h0M404 116.5h0M419 142h0M373 113.5h0M389 112.5h0M365 134.5h0M402 148.5h0M393.5 116.5h0M417 143h0M388.5 150.5h0M364.5 126.5h0M363.5 126h0M374.5 117.5h0M417.5 118h0M387.5 151h0M394 115h0M399 147.5h0M398.5 114h0M418.5 142h0M367 125.5h0M374 115h0M419 137.5h0M407.5 147h0M412.5 144h0M380 112h0M406 116.5h0M389 111.5h0M409.5 146h0M364 141.5h0M414 116.5h0M373.5 113.5h0M363 131h0M418.5 125h0M393 115.5h0M369 141.5h0M384.5 148h0M405.5 116h0M423 133.5h0M363 121.5h0M412.5 114.5h0M363 132h0M394 148h0M421.5 144h0M371.5 120h0M379 116h0M377 116.5h0M382.5 114h0M402.5 150.5h0M421 137h0M364.5 132h0M378.5 147.5h0M405.5 115h0M370 117.5h0M420 120.5h0M413.5 144.5h0M398 112.5h0M380.5 114h0M423.5 124.5h0M405.5 115.5h0M420 140.5h0M410 115h0M378.5 114h0M376.5 116.5h0M419.5 143h0M366.5 124h0M365.5 137h0M381 113h0M366 125.5h0M418.5 141.5h0M364 121.5h0M417 124h0M416 144h0M378 151h0M414 146.5h0M402 153.5h0M419 144h0M368.5 119.5h0M407 116h0M423.5 129.5h0M368.5 148.5h0M418 126h0M368.5 141.5h0M384 147.5h0M370 120h0M382.5 145.5h0M365 133h0M371 121h0M361.5 135.5h0M364.5 138.5h0M420.5 120.5h0M418.5 137.5h0M399.5 111.5h0M365.5 138.5h0M389 152h0M404 153h0M382.5 112.5h0M417.5 123.5h0M383 153h0M417.5 145.5h0M412.5 145.5h0M421.5 135.5h0M416 125.5h0M370 142.5h0M415 144h0M397.5 149h0M385.5 148h0M368.5 118h0M417.5 126.5h0M383 111.5h0M419.5 126h0M421.5 123.5h0M394 116.5h0M402.5 113h0M374.5 120h0M395 149h0M380 108h0M362.5 132.5h0M364 132h0M373 115.5h0M411.5 149h0M368 125h0M418 120h0M422 133h0M383 147h0M421 141h0M396 148.5h0M385 113h0M415.5 119h0M408 146.5h0M403 116h0M365.5 136.5h0M395 149.5h0M423 139h0M368.5 142h0M417 126h0M379.5 149h0M410.5 117.5h0M415 117.5h0M381.5 114.5h0M375.5 147h0M400.5 114.5h0M387.5 112h0M379.5 114.5h0M394 113.5h0M395.5 116.5h0M366 135.5h0M391 150h0M375 119.5h0M370 144.5h0M414.5 143.5h0M419.5 120.5h0M423 128.5h0M378.5 152h0M363 127h0M381 145.5h0M419.5 139h0M416.5 118.5h0M366.5 123h0M419 126h0M399 113h0M370.5 143h0M396 114.5h0M408 148.5h0M421.5 121h0M421 126h0M374 115.5h0M368 117h0M370 146h0M423.5 128h0M364 140.5h0M364.5 125.5h0M400.5 149.5h0M384 146h0M415.5 144h0M375.5 149.5h0M412 118h0M400 112.5h0M367.5 140h0M370.5 119h0M381.5 149h0M392.5 149.5h0M411 117h0M381 115h0M396 114h0M367 125h0M371.5 119.5h0M417.5 115.5h0M420.5 122.5h0M410.5 116h0M365.5 132.5h0M421 135.5h0M383 145.5h0M419 137h0M380 148h0M407.5 114.5h0M399.5 115.5h0M364 127h0M374.5 113h0M419 141.5h0M422.5 128.5h0M418.5 125.5h0M383.5 147.5h0M417 144h0M411.5 116h0M409.5 145h0M365 125h0M420 136.5h0M385 150h0M418.5 120.5h0M376 115.5h0M402 149.5h0M367.5 145.5h0M363.5 127.5h0M366 141h0M408 145h0M404 151h0M403 149.5h0M402 115h0M392 150.5h0M366.5 126h0M400.5 116h0M381 147h0M367.5 124h0M398 149h0M399.5 148.5h0M372.5 119.5h0M381.5 145.5h0M416 124.5h0M419 123h0M367 120.5h0M373.5 115.5h0M373 117.5h0M417.5 141.5h0M420 125.5h0M405.5 147.5h0M374.5 148.5h0M392.5 113h0M394.5 116.5h0M374 119h0M413 150.5h0M419 122h0M387 148.5h0M391.5 112h0M413.5 143.5h0M364.5 117h0M372.5 117h0M403 150.5h0M400.5 115h0M386.5 147.5h0M421.5 132.5h0M410.5 144.5h0M420 136h0M371 119.5h0M374 118.5h0M409.5 114.5h0M364 139h0M363 128.5h0M392 113.5h0M403.5 114h0M381 146.5h0M416.5 144h0M420.5 137h0M371 112.5h0M395 116h0M387.5 113.5h0M424.5 137.5h0M416 145h0M366 132.5h0M416 125h0M398 149.5h0M409.5 117h0M408.5 147.5h0M385 149h0M418.5 126h0M417 144.5h0M396.5 112.5h0M375 117.5h0M400 147h0M397 150.5h0M375 120h0M379 148.5h0M409 148h0M423 132.5h0M390.5 110.5h0M362.5 138h0M371.5 119h0M418 123h0M400.5 148h0M396 115.5h0M388 111.5h0M366.5 145h0M367 124h0M417.5 125.5h0M406 113.5h0M382.5 145h0M368 143.5h0M371.5 116h0M366.5 119h0M377.5 148h0M385 112.5h0M368.5 145h0M371.5 116.5h0M406 150h0M406.5 151h0M362.5 129h0M377.5 115.5h0M387 149h0M364 130.5h0M364 135.5h0M373.5 121h0M361.5 126.5h0M383 115h0M411 145h0M382.5 149.5h0M365.5 140h0M425.5 135h0M419 139h0M390 113h0M392 148h0M424 127h0M422 118.5h0M413.5 145.5h0M371 120.5h0M366.5 126.5h0M396 116h0M416.5 120h0M363.5 129h0M364 132.5h0M380 150h0M367.5 123h0M369 142.5h0M399.5 114.5h0M406 116h0M364 124.5h0M417 125h0M417.5 142h0M395.5 116h0M385 146.5h0M410.5 145h0M382.5 114.5h0M364.5 122.5h0M362.5 137h0M405 116.5h0M398.5 148h0M386 149h0M407 147h0M406.5 146h0M373.5 113h0M416 124h0M390 152.5h0M396 113.5h0M403.5 116.5h0M395 150.5h0M417.5 119.5h0M367.5 144.5h0M364.5 132.5h0M362 135h0M414.5 144h0M375.5 116h0M412.5 116.5h0M416 119h0M366 141.5h0M393 148.5h0M364.5 133.5h0M415.5 143.5h0M409.5 145.5h0M414 117h0M362 122.5h0M384.5 146.5h0M394.5 117h0M374.5 116h0M392.5 148.5h0M407 113h0M417 126.5h0M366 136h0M388 113h0M419.5 144h0M411 114.5h0M400.5 115.5h0M418.5 123h0M404.5 148.5h0M384 113h0M375.5 116.5h0M421.5 132h0M418.5 140.5h0M399.5 111h0M374.5 116.5h0M365 122.5h0M379.5 115.5h0M365.5 127h0M396 148h0M365.5 121h0M404.5 115h0M386 146h0M364.5 141h0M406 115.5h0M411.5 144h0M376 147.5h0M361 137.5h0M418.5 120h0M373 119h0M422.5 138h0M364.5 126h0M365 147h0M371 118h0M393.5 147.5h0M390 149.5h0M418 124.5h0M369 145h0M420.5 127.5h0M363 138.5h0M361.5 139h0M420.5 128.5h0M406.5 115.5h0M363.5 137h0M386 108.5h0M414 117.5h0M417 123h0M374.5 118h0M365.5 137.5h0M371 143h0M367.5 141.5h0M421 136.5h0M377 147h0M386 114h0M395.5 113.5h0M417 145h0M395 151.5h0M376 146.5h0M373.5 118h0M394 115.5h0M362.5 134.5h0M393 114.5h0M413.5 117.5h0M363 130.5h0M421 127.5h0M403.5 149.5h0M373 147.5h0M419 138h0M384 115h0M368.5 118.5h0M412 145.5h0M362.5 137.5h0M367 123h0M384.5 115.5h0M395.5 148h0M382 115.5h0M422 128h0M422.5 142.5h0M406.5 115h0M368.5 140h0M421 130h0M416 115h0M371.5 147h0M421 132.5h0M418.5 138h0M396.5 111h0M369.5 141.5h0M422 125h0M368 120h0M408 146h0M380.5 147.5h0M404.5 117h0M365.5 139.5h0M410 116h0M379 115h0M365 137h0M395 116.5h0M368 119.5h0M420.5 121h0M423.5 134.5h0M391 149.5h0M405 115h0M401 115.5h0M370.5 120h0M377.5 148.5h0M415.5 117.5h0M393 113.5h0M370.5 146h0M401.5 115h0M416.5 124h0M378.5 114.5h0M407 111.5h0M376.5 148h0M364 135h0M405 115.5h0M404.5 116h0M416.5 125.5h0M395 115.5h0M364 125.5h0M375 117h0M381.5 146h0M381 114h0M386.5 147h0M367.5 120h0M422.5 130h0M423 134h0M400 152h0M420.5 124h0M392 113h0M373 119.5h0M366.5 121h0M374.5 117h0M374 116.5h0M424 131h0M365.5 144h0M375 147.5h0M377 115h0M412 146h0M367 140h0M394.5 148.5h0M368 146.5h0M367.5 118h0M371 148h0M420 121.5h0M406.5 149h0M365 133.5h0M414.5 145h0M374 147h0M374.5 146.5h0M399 148.5h0M365 132.5h0M370.5 116.5h0M417.5 122.5h0M406.5 146.5h0M406 146.5h0M419 119h0M368.5 142.5h0M393 113h0M383 146.5h0M422.5 131h0M387.5 148.5h0M365.5 142h0M408.5 146.5h0M418 117h0M366 134h0M374 112h0M411.5 147h0M373.5 118.5h0M364 125h0M420.5 140.5h0M390 114h0M394 112.5h0M370 116.5h0M364.5 121.5h0M367.5 124.5h0M409 146.5h0M391 150.5h0M410 146h0M385 147.5h0M377.5 110h0M371.5 118h0M378 115.5h0M398.5 113h0M418.5 122.5h0M408 147h0M419 148h0M386.5 148.5h0M420.5 155h0M420 122.5h0M392 155h0M389 149.5h0M359.5 129.5h0M347.5 125h0M359.5 161h0M424.5 114h0M417.5 146h0M363 104h0M384.5 105.5h0M383.5 158h0M356 134h0M380.5 112.5h0M383 109.5h0M404 113h0M402 152.5h0M393 108.5h0M339.5 125.5h0M362 127.5h0M422 135.5h0M374.5 152h0M363 137.5h0M369 145.5h0M394.5 147.5h0M365 123.5h0M424.5 148h0M403 115.5h0M341.5 111h0M401 112h0M395.5 154.5h0M327.5 135.5h0M380 152.5h0M414 116h0M353.5 116h0M404.5 115.5h0M360 154h0M358 136h0M421 128.5h0M400 97h0M362.5 144.5h0M362.5 140.5h0M409 168h0M406.5 112.5h0M399.5 104h0M419 104h0M379.5 112h0M382 149.5h0M356.5 118.5h0M431.5 128h0M347 133.5h0M375 109h0M357.5 156h0M358 123h0M352.5 157.5h0M424.5 121.5h0M374 155.5h0M421 106.5h0M382 159h0M371 119h0M363 146.5h0M400 151h0M364 105.5h0M405.5 148.5h0M410 148.5h0M378 113.5h0M359.5 146h0M419 144.5h0M429 125.5h0M363.5 112h0M419 151.5h0M415 152.5h0M420 116h0M358 117h0M419.5 148h0M339 125h0M376.5 155.5h0M334.5 128.5h0M366 146h0M349.5 124.5h0M420 123.5h0M367 117h0M391.5 148.5h0M369 99h0M357.5 131h0M365.5 120h0M407.5 101.5h0M364.5 161.5h0M404.5 116.5h0M419.5 101.5h0M340 122h0M434 106h0M379 160.5h0M398 107.5h0M394 109h0M376 108h0M378.5 148.5h0M430.5 138.5h0M418 127h0M355 124.5h0M432.5 138h0M397.5 152.5h0M420 138h0M420 113h0M363.5 163h0M385.5 113.5h0M410 110h0M444 127h0M370 145h0M423 145.5h0M344.5 119h0M425.5 123h0M360.5 135.5h0M397 108h0M392 115.5h0M418.5 137h0M369.5 149h0M441 105.5h0M344 127.5h0M359 139h0M389.5 112.5h0M389 113h0M346.5 141h0M431 149h0M420 128.5h0M413.5 154.5h0M361 141h0M363.5 116h0M355.5 147h0M382 146.5h0M401.5 110h0M379 109h0M392 153h0M366.5 107h0M354.5 127h0M371 117.5h0M422 136.5h0M425.5 132h0M423.5 131.5h0M382.5 150h0M417 118.5h0M362 120h0M425 169h0M413 117h0M410.5 115.5h0M425 114.5h0M412.5 152.5h0M418.5 144h0M374.5 157.5h0M349 136.5h0M380.5 104h0M434 132.5h0M414.5 148.5h0M348 141h0M387.5 153.5h0M439 143h0M364 150.5h0M343.5 140.5h0M356 151.5h0M395 109.5h0M427 118.5h0M419.5 117.5h0M396 102.5h0M384.5 114.5h0M397 150h0M360 118.5h0M358 122.5h0M357.5 125.5h0M408 159h0M364.5 152h0M389.5 150h0M352.5 137.5h0M461.5 117.5h0M359.5 132h0M363.5 131h0M447.5 137.5h0M352 107h0M371 151h0M369 162.5h0M346 137h0M367 103.5h0M380 147.5h0M404.5 151h0M367 144h0M407.5 115.5h0M431.5 132h0M377.5 147h0M407 110h0M410 154.5h0M362 131.5h0M388.5 104h0M402.5 152.5h0M341.5 134.5h0M413.5 161.5h0M388.5 149.5h0M426 123.5h0M370 118.5h0M398 111.5h0M430 148.5h0M405.5 103h0M418 148h0M383 146h0M408 112.5h0M380.5 89h0M391.5 150.5h0M429.5 132.5h0M364 129.5h0M384.5 110.5h0M362 144h0M433 133h0M425 123.5h0M416.5 116.5h0M385.5 149h0M388.5 162.5h0M356.5 126h0M383.5 115h0M396.5 150h0M395.5 112h0M424.5 128.5h0M353 138.5h0M406.5 154h0M368 160h0M386.5 153h0M405 149.5h0M396.5 158.5h0M369.5 174h0M382.5 153h0M392 149h0M362.5 146.5h0M365 153h0M392.5 154h0M387.5 157h0M398 152h0M375.5 154.5h0M379.5 162.5h0M370.5 192h0M387 149.5h0M390.5 153.5h0M379.5 151.5h0M381.5 152.5h0M381 150h0M379 155.5h0M370.5 150.5h0M384 153.5h0M364.5 148h0M389.5 158.5h0M368 157h0M375.5 154h0M392 152h0M384 154h0M397 161h0M373 168h0M383.5 151h0M385.5 150h0M371 152h0M364 176.5h0M369.5 154h0M368.5 146h0M371.5 151.5h0M383 160h0M389.5 161.5h0M381.5 152h0M378.5 153h0M397.5 148.5h0M375 176.5h0M382.5 159.5h0M388 151.5h0M383.5 163h0M386 156.5h0M374 158h0M389.5 168.5h0M390.5 154.5h0M405.5 149h0M367.5 164.5h0M365.5 157h0M389 159h0M400 154h0M374 177.5h0M374 146.5h0M360 152.5h0M393 147.5h0M376.5 165.5h0M363 177h0M378 151.5h0M383.5 148h0M375.5 151.5h0M368.5 157.5h0M387 147.5h0M361.5 150h0M378.5 160.5h0M384 153h0M381 167.5h0M359.5 172h0M349.5 203h0M359 171h0M397 158h0M394 167h0M374 150.5h0M373 158h0M377.5 149h0M377.5 149.5h0M376.5 153h0M372 158h0M371 157.5h0M370.5 152.5h0M377 152.5h0M374.5 152.5h0M376.5 166h0M387 155.5h0M396.5 153h0M387.5 148h0M373.5 150.5h0M365 157h0M381 178h0M363 189.5h0M386 147h0M383.5 152.5h0M382 145.5h0M400 152.5h0M400 156h0M378 152.5h0M380 147h0M386.5 149h0M373.5 150h0M375.5 177h0M387 151.5h0M338.5 152.5h0M366 148.5h0M380 154.5h0M363 159.5h0M368 174h0M374 166.5h0M393.5 148.5h0M365 158.5h0M393.5 151h0M398 158h0M375.5 155.5h0M383 150.5h0M382.5 157h0M375 169.5h0M370 173.5h0M370.5 148.5h0M353.5 160.5h0M373.5 157h0M370.5 173.5h0M382.5 146.5h0M390.5 149.5h0M372 156.5h0M351.5 158.5h0M365.5 161.5h0M359 194h0M394.5 152h0M386.5 158.5h0M388 152.5h0M382 159.5h0M384 155.5h0M384.5 150.5h0M380.5 160h0M371.5 152h0M367.5 163h0M377.5 152h0M385.5 151h0M385.5 149.5h0M399 154.5h0M391 155.5h0M379.5 165.5h0M389 150h0M396.5 151.5h0M379 148h0M383 161.5h0M368.5 162.5h0M376.5 156.5h0M381 163h0M398 150h0M401.5 152h0M379 171h0M339 201.5h0M379 152h0M380 150.5h0M385 151h0M375 154.5h0M385.5 157.5h0M373.5 151.5h0M366 152h0M385.5 151.5h0M355 160h0M376 152.5h0M370 152.5h0M382 167.5h0M357.5 176h0M346 151.5h0M384 150h0M364.5 158h0M382 152.5h0M384 166.5h0M357.5 153h0M375 160.5h0M368.5 155.5h0M380.5 164h0M406 147h0M384.5 153.5h0M382 156h0M374.5 165h0M397.5 160h0M374 160.5h0M389.5 156.5h0M370.5 153h0M365.5 167.5h0M363.5 154h0M381 155h0M384.5 151.5h0M373 148h0M389 151.5h0M378 156h0M376 161h0M381 154.5h0M386.5 156h0M384.5 156h0M350.5 190.5h0M386 157h0M395 160h0M378 170h0M368.5 160.5h0M380.5 146.5h0M369.5 159.5h0M386.5 148h0M375 156h0M366.5 150.5h0M347.5 165h0M375.5 152h0M388.5 154.5h0M373.5 161.5h0M363 165.5h0M359.5 154.5h0M380 159.5h0M353.5 157.5h0M379.5 151h0M373.5 176.5h0M367.5 159h0M382.5 167h0M381 151h0M377.5 169.5h0M377.5 159h0M390.5 158.5h0M372.5 162.5h0M390 157.5h0M356.5 157.5h0M392 162h0M376 165.5h0M364 160.5h0M387 153.5h0M397 149.5h0M381 147.5h0M363 144h0M372.5 158h0M382 166.5h0M355.5 176.5h0M387.5 160h0M356.5 174.5h0M391 160h0M378 159.5h0M385.5 159.5h0M381 148.5h0M382.5 150.5h0M378 163.5h0M397.5 149.5h0M385 152.5h0M387 171.5h0M385.5 166h0M398.5 113.5h0M374 110h0M389.5 107h0M387 112h0M401 104h0M390 111.5h0M399 111.5h0M410.5 110h0M386.5 95h0M385 106.5h0M390.5 113.5h0M424.5 108h0M365.5 104h0M412 110h0M366.5 113h0M359.5 113.5h0M397.5 111h0M457.5 113.5h0M411 114h0M424 113h0M400 108h0M401.5 104.5h0M397 97.5h0M396.5 108h0M393.5 99h0M381.5 101h0M400.5 112h0M420.5 106h0M376 112h0M408 113.5h0M416 111.5h0M403 111h0M399 112.5h0M423.5 106.5h0M383 108h0M428 105h0M409.5 112h0M422.5 112h0M394.5 113h0M409 110.5h0M406.5 103.5h0M385 112h0M424 112.5h0M420.5 108.5h0M410.5 112h0M451 113h0M400 110h0M381.5 114h0M416 112h0M410.5 106.5h0M397 106h0M406 109h0M397 111.5h0M386 109h0M381 113.5h0M398 106h0M384 109h0M414 112.5h0M415 111.5h0M392.5 101h0M397.5 106.5h0M409 110h0M404.5 107.5h0M379 112h0M384 112h0M404 109h0M391.5 110h0M411.5 109h0M406 106.5h0M385.5 110.5h0M431.5 99.5h0M392.5 114h0M375 110h0M364 112h0M376.5 108.5h0M397.5 104.5h0M381 108h0M390.5 109.5h0M374.5 106.5h0M402 95h0M386 106.5h0M420.5 113.5h0M412 112.5h0M385 111h0M413.5 110.5h0M388.5 112.5h0M414.5 111.5h0M373.5 106.5h0M416.5 114h0M397.5 112h0M398 94.5h0M403.5 111.5h0M409.5 108.5h0M389.5 110.5h0M419 111.5h0M409.5 101.5h0M395 111h0M379.5 108.5h0M411 111h0M399.5 107h0M397 109h0M368.5 110h0M406 110h0M420.5 109h0M389.5 113h0M402 110.5h0M409 113.5h0M398 105.5h0M393 106h0M418 109.5h0M415.5 112.5h0M402.5 100.5h0M365.5 112.5h0M397.5 105h0M373.5 104h0M406.5 110.5h0M422 108.5h0M404.5 85.5h0M403 114h0M392 105.5h0M403 113.5h0M380 106h0M401 114h0M385 114h0M416 108h0M405 112.5h0M353.5 110.5h0M411 106h0M389.5 100.5h0M406.5 111h0M391.5 109.5h0M342.5 112.5h0M397.5 107h0M404.5 108.5h0M375 106h0M422 109h0M408 112h0M419 109h0M410.5 108h0M412.5 107.5h0M409.5 111.5h0M372.5 108h0M410 113.5h0M370 107.5h0M442 112.5h0M403.5 112.5h0M404.5 111.5h0M395.5 110h0M375.5 109.5h0M402.5 109.5h0M380 113.5h0M381.5 113h0M378.5 108.5h0M370.5 111h0M431 111.5h0M434 103h0M362.5 107h0M385.5 23.5h0M390 34h0M381 61.5h0M387 81.5h0M381 84h0M391 90h0M384 91h0M397 69.5h0M441 116.5h0M437.5 119h0M438.5 123h0M432 120h0M453 121h0M456 122h0M458 123.5h0M433.5 127.5h0M434.5 131h0M432 129.5h0M439.5 136.5h0M477 141.5h0M455 145h0M432 144.5h0M335 128h0M325 136h0M310 140h0M345 200h0M352 210h0M330 185h0" stroke="#000" stroke-width="1.9" stroke-linecap="round" fill="none"/><path d="M387 148h1v1h-1zM375 149h2v1h-2zM385 149h6v1h-6zM376 150h2v1h-2zM379 150h2v1h-2zM385 150h9v1h-9zM375 151h7v1h-7zM384 151h1v1h-1zM386 151h4v1h-4zM391 151h2v1h-2zM376 152h5v1h-5zM382 152h1v1h-1zM387 152h2v1h-2zM375 153h5v1h-5zM387 153h1v1h-1zM376 154h5v1h-5zM386 154h2v1h-2zM377 155h5v1h-5zM385 155h4v1h-4zM378 156h5v1h-5zM386 156h4v1h-4zM379 157h5v1h-5zM385 157h5v1h-5zM383 158h6v1h-6zM384 159h6v1h-6zM376 160h1v1h-1zM378 160h1v1h-1zM386 160h1v1h-1zM388 160h3v1h-3zM377 161h2v1h-2zM380 161h2v1h-2zM389 161h1v1h-1zM377 162h1v1h-1zM381 162h2v1h-2z" fill="#f00000"/><path d="M367.5 153.5h0M384.5 155h0M390.5 151h0M374 161h0M382 162h0M370.5 165.5h0M386 157h0M378.5 170h0M374.5 152h0M374 158.5h0M389.5 162h0M368 171.5h0M397 148h0M376 157h0M389 152h0M382.5 161h0M376.5 161h0M387.5 153h0M387 160.5h0M366 155h0M391 151h0M383 153h0M388.5 153.5h0M393 151h0M383 147.5h0M380.5 163.5h0M389 160.5h0M395.5 154.5h0M373.5 162.5h0M384 152h0M363.5 169h0M383.5 149.5h0M347.5 194.5h0M395.5 150.5h0M395.5 158h0M376.5 156h0M394 157.5h0M396 157h0M383 156h0M376.5 156.5h0M385.5 156h0M381 158h0M368.5 165h0M379.5 150h0M392 153.5h0M389 148h0M368.5 149.5h0M377.5 151h0M383 159h0M391 166.5h0M370 152h0M377.5 161.5h0M363 162.5h0M385.5 150.5h0M386.5 150h0M387.5 155.5h0M375.5 166.5h0M376.5 163h0M383 149.5h0M371.5 147h0M365 155.5h0M391.5 155h0M388.5 154h0M385 151.5h0M378 156h0M384 159.5h0M386.5 148.5h0M390 155.5h0M372.5 162h0M397.5 148.5h0M377.5 156h0M392.5 156h0M405 153h0M389.5 151.5h0M381 157h0M377.5 150.5h0M381.5 156.5h0M378.5 160h0M387.5 148.5h0M395 152.5h0M377.5 149.5h0M380 161.5h0M376.5 167.5h0M380.5 168.5h0M382 147.5h0M374.5 154.5h0M400 150.5h0M379 167h0M386.5 154h0M382.5 147.5h0M371.5 156.5h0M360 180h0M377 153h0M369.5 159.5h0M383 149h0M380.5 154h0M374 157.5h0M392.5 155.5h0M382 151h0M398 149h0M367 160h0M373.5 149.5h0M370 160h0M366.5 148h0M391.5 152h0M393 149.5h0M385.5 167h0M386.5 169.5h0M365 163.5h0M379 156.5h0M389.5 159.5h0M387.5 147h0M376 148.5h0M383 181.5h0M377 155h0M372 163h0M391 151.5h0M394 149.5h0M394.5 152.5h0M368.5 148.5h0M379.5 158.5h0M388 162.5h0M367.5 162h0M363.5 149.5h0M376.5 150.5h0M375 164.5h0M379.5 154h0M382.5 152h0M388.5 157.5h0M387 159.5h0M372.5 165h0M381 155.5h0M375 151.5h0M371.5 154h0M400.5 150.5h0M383 156.5h0M392.5 165.5h0M389.5 159h0M380 151.5h0M396.5 149.5h0M379.5 151.5h0M372 172h0M376.5 170h0M387.5 149h0M394.5 141h0M372.5 148.5h0M391.5 150h0M383.5 145.5h0M370.5 156.5h0M369.5 160h0M369 192h0M376.5 159h0M377 163.5h0M393 150.5h0M375 154.5h0M375 164h0M389.5 156h0M375.5 152.5h0M366.5 168h0M389 150h0M387.5 159h0M394.5 151h0M376.5 151h0M383.5 155.5h0M365 161.5h0M382.5 171.5h0M400 151h0M372 158h0M382.5 149h0M377 154.5h0M379 150h0M374 168h0M380 153h0M397 147h0M376 159.5h0M381 149h0M375.5 149.5h0M400.5 149.5h0M394 159.5h0M388.5 159h0M377 160.5h0M383 152h0M365 187.5h0M375 149h0M381 150h0M387.5 154.5h0M381 154.5h0M386.5 149.5h0M388.5 164.5h0M379.5 161h0M384.5 157.5h0M376 162.5h0M383 161h0M386.5 155h0M392 155.5h0M387.5 146h0M380 149.5h0M383.5 151.5h0M396 156.5h0M364.5 153.5h0M387 152.5h0M385 147.5h0M388 153.5h0M388 181.5h0M373.5 155h0M397 151h0M373.5 157.5h0M378 152h0M393.5 151.5h0M392 151h0M369.5 157.5h0M371.5 166.5h0M395.5 169.5h0M374 147h0M368 161h0M377 163h0M376 149.5h0M365.5 154h0M380 152h0M400.5 173.5h0M387.5 169h0M390.5 165h0M398.5 152h0M389 149.5h0M385.5 146h0M386 159.5h0M388.5 152.5h0M388 159.5h0M375.5 165h0M388.5 146h0M386.5 151h0M389.5 149h0M371 158h0M384.5 152.5h0M377.5 148.5h0M382.5 158.5h0M382 148.5h0M387.5 151.5h0M369.5 146h0M391.5 160h0M396 149.5h0M403.5 149h0M387 170.5h0M392 152h0M390.5 148.5h0M380.5 163h0M371.5 146.5h0M386 151.5h0M390 157h0M389.5 150h0M364.5 149.5h0M377 157h0M366 152.5h0M374.5 155h0M391.5 151.5h0M374 161.5h0M391 162.5h0M393 149h0M384 157h0M389.5 153h0M376.5 154h0M371.5 172h0M375.5 158h0M371.5 174h0M393.5 152h0M406.5 152h0M402.5 153h0M385.5 152h0M366 148.5h0M378 162.5h0M384.5 149.5h0M375 150h0M398.5 157.5h0M389.5 160h0M374 157h0M369 152.5h0M392 150.5h0M376 149h0M386 148h0M388.5 151.5h0M392.5 160.5h0M383 157h0M400 159h0M387 149.5h0M396.5 155h0M383 158h0M383.5 152.5h0M397.5 149.5h0M389 155.5h0M394 150.5h0M395.5 164.5h0M362.5 149.5h0M372 154.5h0M380 155h0M377 151.5h0M379.5 153h0M373 157.5h0M401.5 163h0M380.5 160.5h0M396 155h0M382 156h0M377 162h0M389 161.5h0M382.5 160.5h0M379 161.5h0M385 149.5h0M392.5 161h0M391 147h0M376.5 151.5h0M391 158h0M392 157.5h0M388.5 160h0M383 161.5h0M391 155h0M382 156.5h0M386.5 159.5h0M390.5 161h0M378.5 157.5h0M378 151h0M386 156.5h0M382.5 156h0M383 162.5h0M380.5 162h0M382 160.5h0M391.5 164.5h0M393.5 149.5h0M385 159.5h0M387 153h0M383.5 159.5h0M379.5 169.5h0M389.5 156.5h0M390 152h0M378.5 160.5h0M387 156.5h0M380.5 161.5h0M379.5 154.5h0M381.5 161.5h0M386.5 157.5h0M386 157.5h0M390.5 160h0M384.5 158h0M401 158.5h0M387 162.5h0M394 165h0M377 167.5h0M391.5 165h0M382 168h0M386 154h0M381.5 157h0M389 159h0M381 156h0M385.5 158h0M382 154h0M389.5 160.5h0M390.5 148h0M388 155h0M375 158.5h0M381.5 148h0M383 159.5h0M385.5 165.5h0M378.5 158.5h0M382.5 153.5h0M393 152h0M380 161h0M396 147.5h0M381 161h0M385.5 159h0M381 167.5h0M390 161h0M380.5 152.5h0M387 152h0M382.5 158h0M378.5 151h0M382.5 163h0M391 168h0M385.5 154.5h0M382 152h0M395 163h0M378.5 168h0M399.5 154.5h0M382 163.5h0M388.5 155.5h0M380.5 165.5h0M392.5 152h0M385.5 151.5h0M388 159h0M385 160.5h0M391.5 158h0M393 154.5h0M377 156.5h0M388 158.5h0M372 152h0M385.5 160.5h0M389.5 155h0M389 155h0M391 155.5h0M384.5 150h0M388.5 157h0M393.5 154h0M386.5 161h0M375.5 154.5h0M373 151h0M381.5 158h0M387 155h0M385 159h0M384.5 159.5h0M385.5 159.5h0M377 169.5h0M381.5 163.5h0M384 162.5h0M376.5 152h0M371 153h0M375 160.5h0M382 165.5h0M376 153.5h0M382.5 161.5h0M379.5 163.5h0M377.5 163h0M374.5 154h0M371 157.5h0M383.5 152h0M394.5 160h0M381 163h0M394 157h0M373 158h0M388.5 161h0M393 155.5h0M376.5 165h0M390 157.5h0M384 156h0M385 190.5h0M385.5 178.5h0M365.5 165h0M369 173.5h0M405 172.5h0M379 178h0M375 163h0M373 178.5h0M335.5 191h0M372.5 181h0M365.5 155h0M395.5 186.5h0M381.5 171.5h0M384 176h0M364 181.5h0M390 160h0M358 182h0M394 183.5h0M395 184.5h0M376.5 180.5h0M373 181h0M388 184.5h0" stroke="#f00000" stroke-width="1.9" stroke-linecap="round" fill="none"/><path d="M403 112h1v1h-1zM409 112h2v1h-2zM408 113h2v1h-2zM408 114h1v1h-1z" fill="#1414d8"/><path d="M398 116h0M424 110h0M373.5 116.5h0M400 102h0M392.5 116.5h0M398 114.5h0M396 102.5h0M387 112h0M413 111h0M395 114.5h0M390 115.5h0M383 107h0M409.5 113h0M392 92h0M411 115h0M397.5 113h0M393.5 116.5h0M391.5 115h0M414 86h0M410 113.5h0M408.5 112.5h0M404 111h0M386.5 116h0M415 114.5h0M411.5 115h0M409 114.5h0M422.5 107.5h0M396.5 106.5h0M397.5 100.5h0M419.5 112h0M417 111.5h0M393.5 114.5h0M415 113h0M422 113h0M391 113h0M419.5 112.5h0M419.5 93h0M409 115.5h0M412 107.5h0M400.5 110h0M407 97.5h0M394.5 106h0M402 109.5h0M382 115.5h0M409.5 108.5h0M415 109.5h0M399 113h0M418 110h0M383 110h0M416.5 116h0M408 115.5h0M406 111.5h0M447 99.5h0M397 115.5h0M412 102.5h0M393.5 110.5h0M403.5 112h0M425.5 104.5h0M418.5 110h0M388 116.5h0M381.5 116h0M390 101h0M407 114h0M391 110.5h0M407 113h0M404.5 111h0M383 116.5h0M417 114.5h0M403 105h0M413.5 107h0M412 111.5h0M409 116h0M406.5 111h0M381.5 111.5h0M408.5 115h0M427 116.5h0M395 105.5h0M394 98.5h0M399.5 113h0M400 113h0M414 110.5h0M411 111.5h0M423.5 112.5h0M410.5 113.5h0M430 116h0M408.5 114.5h0M409 113.5h0M404 113h0M412 108.5h0M398 98.5h0M402 103h0M422.5 102h0M431.5 114h0M405.5 104.5h0M412 112h0M403 108.5h0M422 109h0M409.5 111.5h0M406.5 116.5h0M403.5 113.5h0M397 114h0M391 115h0M396 113h0M407.5 104h0M392.5 108h0M387 107.5h0M402 93.5h0M398 114h0M394 114.5h0M411 113.5h0M397.5 115.5h0M421 116.5h0M434.5 115h0M434 116h0M384 115h0M388.5 114h0M402 104h0M414 115h0M394 99h0M411.5 116h0M407.5 116h0M405 112h0M407 105h0M404.5 103h0M408 113h0M392.5 115h0M386.5 111h0M408 116h0M415 116.5h0M394.5 104.5h0M402.5 112h0M390.5 111h0M420 112.5h0M393.5 113.5h0M409.5 113.5h0M400 110h0M431 116h0M400 103.5h0M414.5 116h0M414 110h0M415 110h0M407.5 107.5h0M400.5 114.5h0M437.5 113.5h0M388 114h0M405.5 108.5h0M422 98.5h0M386 112h0M393 116h0M404 111.5h0M412.5 110.5h0M418.5 91.5h0M407.5 112h0M421.5 106.5h0M388.5 116.5h0M427.5 108h0M395 109.5h0M402 116h0M407 112.5h0M417 113.5h0M420 107h0M411.5 111h0M415.5 108.5h0M405.5 96h0M411.5 112.5h0M387.5 107.5h0M401 112.5h0M424.5 114.5h0M418 114h0M414 99h0M419 107.5h0M414 106h0M419 113.5h0M404.5 114.5h0M423.5 114h0M394 112h0M427 116h0M419 111h0M399 108.5h0M415.5 112.5h0M389 111.5h0M426.5 116h0M384.5 114.5h0M389 114h0M390.5 114.5h0M418 99.5h0M401.5 34h0M416.5 34.5h0M418 37h0M427 32h0M416 41.5h0M420 42h0M422.5 39.5h0M442 38.5h0M413.5 53.5h0M395.5 64h0M400 65.5h0M403.5 62h0M407 64.5h0M406.5 66.5h0M406 70.5h0M420.5 73.5h0M397 80h0M400.5 81h0M415 79.5h0M416.5 80.5h0M427.5 82h0M448.5 81.5h0M410 85.5h0M413 88.5h0M412 91h0M424 86.5h0M419.5 91h0M438.5 90h0M444 92h0M445 94.5h0M406.5 92.5h0M386 96h0M389.5 97h0M393 96h0M395.5 98h0M415.5 98h0M418 100h0M409.5 101.5h0M412 103h0M428.5 101.5h0M431 102.5h0M433.5 105h0M420.5 105h0M424 106.5h0M426.5 108h0M436 107.5h0M438.5 109h0M440.5 111.5h0M373 95.5h0M376.5 97h0M442 39h0M471.5 53h0M508.5 52.5h0M512.5 56.5h0M465 64h0M457 77.5h0M458 82h0M459.5 85h0M455 84.5h0M463 87h0M461.5 89h0M450.5 88.5h0M450.5 89.5h0M444.5 92h0M444.5 94.5h0M440 100h0M439.5 101.5h0M434 103h0M431.5 104.5h0M437.5 107h0M438 110h0M437 111h0M441.5 111h0M433.5 111.5h0M432 116.5h0" stroke="#1414d8" stroke-width="1.9" stroke-linecap="round" fill="none"/><path d="M387 152.5h0M387 156.5h0M387.5 150h0M384 154h0M385.5 147.5h0M390 150.5h0M389.5 152h0M386 152.5h0M384.5 150h0M394 150h0M385.5 154.5h0M390 158h0M390.5 151h0M388 149h0M392.5 158h0M390.5 155h0M355 162h0M343 177h0M363 160h0" stroke="#18e018" stroke-width="1.9" stroke-linecap="round" fill="none"/><path d="M407 107.5h0M407.5 110h0M404 110.5h0M395.5 108h0M411 111.5h0M392 110.5h0M406.5 111.5h0M404 111h0M390.5 115h0M407 108.5h0M407.5 114h0M400 114.5h0M366 64h0M368.5 85.5h0M381.5 81.5h0M373 89h0M368.5 94.5h0M403 57h0M362 95h0M370 104h0M374 108h0" stroke="#e4a820" stroke-width="1.9" stroke-linecap="round" fill="none"/><line x1="126.5" y1="8" x2="126.5" y2="218.2" stroke="#fff" stroke-opacity="0.5" stroke-width="0.9" stroke-dasharray="1.5,2.3"/><line x1="41.5" y1="132.1" x2="251.5" y2="132.1" stroke="#fff" stroke-opacity="0.5" stroke-width="0.9" stroke-dasharray="1.5,2.3"/><line x1="391.6" y1="8" x2="391.6" y2="218.2" stroke="#fff" stroke-opacity="0.5" stroke-width="0.9" stroke-dasharray="1.5,2.3"/><line x1="306.8" y1="132.1" x2="517.2" y2="132.1" stroke="#fff" stroke-opacity="0.5" stroke-width="0.9" stroke-dasharray="1.5,2.3"/><line x1="60.5" y1="219.2" x2="60.5" y2="222.2" stroke="#777" stroke-width="0.8"/><text x="0" y="0" font-size="5" text-anchor="middle" fill="#111" transform="translate(60.5,231.6) scale(1.24,1)">-1.0</text><line x1="40.5" y1="197.3" x2="37.5" y2="197.3" stroke="#777" stroke-width="0.8"/><text x="0" y="0" font-size="5" text-anchor="middle" fill="#111" transform="translate(32.3,197.3) rotate(-90) scale(1.24,1)">-1.0</text><line x1="93.5" y1="219.2" x2="93.5" y2="222.2" stroke="#777" stroke-width="0.8"/><text x="0" y="0" font-size="5" text-anchor="middle" fill="#111" transform="translate(93.5,231.6) scale(1.24,1)">-0.5</text><line x1="40.5" y1="164.7" x2="37.5" y2="164.7" stroke="#777" stroke-width="0.8"/><text x="0" y="0" font-size="5" text-anchor="middle" fill="#111" transform="translate(32.3,164.7) rotate(-90) scale(1.24,1)">-0.5</text><line x1="126.5" y1="219.2" x2="126.5" y2="222.2" stroke="#777" stroke-width="0.8"/><text x="0" y="0" font-size="5" text-anchor="middle" fill="#111" transform="translate(126.5,231.6) scale(1.24,1)">0.0</text><line x1="40.5" y1="132.1" x2="37.5" y2="132.1" stroke="#777" stroke-width="0.8"/><text x="0" y="0" font-size="5" text-anchor="middle" fill="#111" transform="translate(32.3,132.1) rotate(-90) scale(1.24,1)">0.0</text><line x1="159.5" y1="219.2" x2="159.5" y2="222.2" stroke="#777" stroke-width="0.8"/><text x="0" y="0" font-size="5" text-anchor="middle" fill="#111" transform="translate(159.5,231.6) scale(1.24,1)">0.5</text><line x1="40.5" y1="99.5" x2="37.5" y2="99.5" stroke="#777" stroke-width="0.8"/><text x="0" y="0" font-size="5" text-anchor="middle" fill="#111" transform="translate(32.3,99.5) rotate(-90) scale(1.24,1)">0.5</text><line x1="192.5" y1="219.2" x2="192.5" y2="222.2" stroke="#777" stroke-width="0.8"/><text x="0" y="0" font-size="5" text-anchor="middle" fill="#111" transform="translate(192.5,231.6) scale(1.24,1)">1.0</text><line x1="40.5" y1="66.9" x2="37.5" y2="66.9" stroke="#777" stroke-width="0.8"/><text x="0" y="0" font-size="5" text-anchor="middle" fill="#111" transform="translate(32.3,66.9) rotate(-90) scale(1.24,1)">1.0</text><line x1="225.5" y1="219.2" x2="225.5" y2="222.2" stroke="#777" stroke-width="0.8"/><text x="0" y="0" font-size="5" text-anchor="middle" fill="#111" transform="translate(225.5,231.6) scale(1.24,1)">1.5</text><line x1="40.5" y1="34.3" x2="37.5" y2="34.3" stroke="#777" stroke-width="0.8"/><text x="0" y="0" font-size="5" text-anchor="middle" fill="#111" transform="translate(32.3,34.3) rotate(-90) scale(1.24,1)">1.5</text><text x="133.7" y="243.2" font-size="11.5" text-anchor="middle" fill="#222">PRC1 vs wild-type</text><text x="0" y="0" font-size="11.5" text-anchor="middle" fill="#222" transform="translate(23.4,122.8) rotate(-90)">PRC2 vs wild-type</text><line x1="325.8" y1="219.2" x2="325.8" y2="222.2" stroke="#777" stroke-width="0.8"/><text x="0" y="0" font-size="5" text-anchor="middle" fill="#111" transform="translate(325.8,231.6) scale(1.24,1)">-1.0</text><line x1="305.8" y1="197.3" x2="302.8" y2="197.3" stroke="#777" stroke-width="0.8"/><text x="0" y="0" font-size="5" text-anchor="middle" fill="#111" transform="translate(297.6,197.3) rotate(-90) scale(1.24,1)">-1.0</text><line x1="358.7" y1="219.2" x2="358.7" y2="222.2" stroke="#777" stroke-width="0.8"/><text x="0" y="0" font-size="5" text-anchor="middle" fill="#111" transform="translate(358.7,231.6) scale(1.24,1)">-0.5</text><line x1="305.8" y1="164.7" x2="302.8" y2="164.7" stroke="#777" stroke-width="0.8"/><text x="0" y="0" font-size="5" text-anchor="middle" fill="#111" transform="translate(297.6,164.7) rotate(-90) scale(1.24,1)">-0.5</text><line x1="391.6" y1="219.2" x2="391.6" y2="222.2" stroke="#777" stroke-width="0.8"/><text x="0" y="0" font-size="5" text-anchor="middle" fill="#111" transform="translate(391.6,231.6) scale(1.24,1)">0.0</text><line x1="305.8" y1="132.1" x2="302.8" y2="132.1" stroke="#777" stroke-width="0.8"/><text x="0" y="0" font-size="5" text-anchor="middle" fill="#111" transform="translate(297.6,132.1) rotate(-90) scale(1.24,1)">0.0</text><line x1="424.5" y1="219.2" x2="424.5" y2="222.2" stroke="#777" stroke-width="0.8"/><text x="0" y="0" font-size="5" text-anchor="middle" fill="#111" transform="translate(424.5,231.6) scale(1.24,1)">0.5</text><line x1="305.8" y1="99.5" x2="302.8" y2="99.5" stroke="#777" stroke-width="0.8"/><text x="0" y="0" font-size="5" text-anchor="middle" fill="#111" transform="translate(297.6,99.5) rotate(-90) scale(1.24,1)">0.5</text><line x1="457.4" y1="219.2" x2="457.4" y2="222.2" stroke="#777" stroke-width="0.8"/><text x="0" y="0" font-size="5" text-anchor="middle" fill="#111" transform="translate(457.4,231.6) scale(1.24,1)">1.0</text><line x1="305.8" y1="66.9" x2="302.8" y2="66.9" stroke="#777" stroke-width="0.8"/><text x="0" y="0" font-size="5" text-anchor="middle" fill="#111" transform="translate(297.6,66.9) rotate(-90) scale(1.24,1)">1.0</text><line x1="490.3" y1="219.2" x2="490.3" y2="222.2" stroke="#777" stroke-width="0.8"/><text x="0" y="0" font-size="5" text-anchor="middle" fill="#111" transform="translate(490.3,231.6) scale(1.24,1)">1.5</text><line x1="305.8" y1="34.3" x2="302.8" y2="34.3" stroke="#777" stroke-width="0.8"/><text x="0" y="0" font-size="5" text-anchor="middle" fill="#111" transform="translate(297.6,34.3) rotate(-90) scale(1.24,1)">1.5</text><text x="416.5" y="243.2" font-size="11.7" text-anchor="middle" fill="#222">PhoRC vs wild-type</text><text x="0" y="0" font-size="11.5" text-anchor="middle" fill="#222" transform="translate(287.0,122.3) rotate(-90)">PRC1 vs wild-type</text><text x="2.8" y="17.6" font-size="18.8" font-weight="bold" fill="#000">A</text><text x="278.4" y="16" font-size="18.3" font-weight="bold" fill="#000">B</text><text x="1.3" y="275" font-size="18" font-weight="bold" fill="#000">C</text><text x="2.2" y="574.6" font-size="17.4" font-weight="bold" fill="#000">D</text><text x="81.7" y="578.2" font-size="11.4" font-weight="bold" text-anchor="middle" fill="#111">COOPERATIVE</text><text x="84.75" y="589.6" font-size="7.8" font-weight="bold" text-anchor="middle" fill="#2e2e9a">Blue genes</text><text x="77.1" y="638.8" font-size="7.9" font-weight="bold" text-anchor="middle" fill="#111">e.g. <tspan font-style="italic">Prr6</tspan></text><text x="81.7" y="655.2" font-size="11.3" font-weight="bold" text-anchor="middle" fill="#111">INDEPENDENT</text><text x="191.8" y="590.3" font-size="11.2" font-weight="bold" text-anchor="middle" fill="#111">DIFFERENTIALLY</text><text x="191.8" y="602.7" font-size="11.2" font-weight="bold" text-anchor="middle" fill="#111">SENSITIVE</text><path d="M74.40 611.20C74.42 611.64 74.42 612.08 74.43 612.53C74.45 612.98 74.51 613.44 74.50 613.89C74.48 614.35 74.43 614.81 74.34 615.24C74.25 615.68 74.11 616.12 73.94 616.53C73.77 616.93 73.55 617.32 73.32 617.68C73.08 618.04 72.78 618.36 72.52 618.69C72.25 619.01 71.93 619.27 71.71 619.62C71.49 619.97 71.38 620.40 71.19 620.79C71.01 621.17 70.83 621.58 70.61 621.94C70.38 622.30 70.13 622.64 69.85 622.94C69.56 623.24 69.25 623.51 68.92 623.74C68.60 623.96 68.23 624.13 67.89 624.31C67.54 624.49 67.19 624.64 66.84 624.82C66.50 625.00 66.17 625.23 65.82 625.37C65.47 625.52 65.10 625.64 64.73 625.72C64.37 625.79 63.98 625.83 63.61 625.83C63.24 625.82 62.86 625.75 62.49 625.71C62.12 625.68 61.76 625.59 61.40 625.61C61.04 625.63 60.68 625.74 60.30 625.83C59.93 625.92 59.53 626.08 59.14 626.16C58.75 626.23 58.34 626.27 57.94 626.27C57.54 626.26 57.14 626.21 56.75 626.11C56.36 626.02 55.97 625.87 55.61 625.69C55.24 625.51 54.91 625.25 54.56 625.02C54.22 624.78 53.89 624.53 53.55 624.28C53.20 624.04 52.83 623.84 52.51 623.56C52.18 623.29 51.88 622.97 51.60 622.63C51.32 622.30 51.10 621.90 50.83 621.55C50.56 621.20 50.22 620.91 49.96 620.54C49.70 620.18 49.49 619.77 49.28 619.37C49.06 618.96 48.87 618.55 48.66 618.13C48.46 617.71 48.21 617.31 48.05 616.87C47.88 616.43 47.75 615.96 47.68 615.49C47.60 615.02 47.57 614.52 47.59 614.04C47.61 613.56 47.68 613.06 47.78 612.59C47.89 612.12 48.07 611.65 48.22 611.20C48.38 610.75 48.56 610.33 48.71 609.90C48.86 609.48 49.01 609.08 49.11 608.67C49.21 608.26 49.24 607.84 49.33 607.43C49.42 607.02 49.51 606.60 49.64 606.21C49.77 605.81 49.94 605.43 50.12 605.06C50.31 604.70 50.54 604.37 50.75 604.02C50.95 603.68 51.17 603.35 51.36 603.00C51.55 602.65 51.70 602.25 51.91 601.91C52.12 601.56 52.35 601.23 52.60 600.93C52.85 600.63 53.12 600.35 53.41 600.10C53.71 599.85 54.02 599.63 54.34 599.44C54.66 599.25 55.02 599.15 55.33 598.94C55.64 598.74 55.93 598.51 56.21 598.20C56.48 597.90 56.72 597.46 57.01 597.13C57.30 596.80 57.62 596.48 57.96 596.22C58.30 595.96 58.66 595.72 59.03 595.55C59.41 595.38 59.80 595.25 60.20 595.17C60.59 595.09 61.00 595.10 61.40 595.09C61.80 595.08 62.20 595.10 62.61 595.11C63.01 595.12 63.43 595.09 63.83 595.15C64.23 595.21 64.63 595.31 65.01 595.47C65.40 595.62 65.76 595.85 66.12 596.07C66.47 596.30 66.80 596.59 67.15 596.82C67.49 597.06 67.85 597.24 68.20 597.47C68.54 597.69 68.88 597.93 69.23 598.16C69.58 598.39 69.96 598.58 70.29 598.84C70.62 599.10 70.94 599.40 71.23 599.74C71.51 600.07 71.77 600.44 71.98 600.84C72.20 601.23 72.38 601.67 72.53 602.11C72.68 602.54 72.77 603.02 72.87 603.47C72.98 603.92 73.06 604.37 73.16 604.80C73.27 605.23 73.42 605.63 73.51 606.06C73.60 606.48 73.60 606.93 73.70 607.36C73.80 607.78 74.00 608.17 74.10 608.59C74.21 609.01 74.30 609.44 74.35 609.88C74.40 610.31 74.39 610.76 74.40 611.20Z" fill="#4b4bd4" stroke="#2a2a8a" stroke-width="1.1" stroke-linejoin="round"/><path d="M104.19 614.40C104.18 614.82 104.18 615.25 104.04 615.65C103.91 616.06 103.63 616.45 103.39 616.82C103.16 617.19 102.75 617.49 102.64 617.87C102.52 618.26 102.67 618.70 102.69 619.13C102.71 619.57 102.81 620.07 102.74 620.49C102.66 620.91 102.50 621.32 102.24 621.65C101.98 621.99 101.57 622.24 101.20 622.48C100.83 622.72 100.38 622.88 100.02 623.10C99.66 623.33 99.40 623.62 99.04 623.81C98.68 624.00 98.21 624.05 97.88 624.24C97.54 624.44 97.34 624.79 97.02 625.00C96.71 625.20 96.30 625.25 95.99 625.48C95.68 625.71 95.48 626.15 95.16 626.37C94.84 626.59 94.47 626.76 94.09 626.83C93.70 626.89 93.27 626.85 92.86 626.76C92.45 626.67 92.01 626.36 91.62 626.27C91.24 626.18 90.90 626.12 90.55 626.23C90.20 626.35 89.87 626.78 89.50 626.98C89.13 627.18 88.73 627.35 88.34 627.43C87.96 627.50 87.57 627.42 87.17 627.44C86.77 627.46 86.34 627.54 85.92 627.57C85.50 627.59 85.04 627.67 84.63 627.58C84.23 627.50 83.84 627.31 83.51 627.06C83.18 626.81 83.00 626.31 82.66 626.08C82.32 625.85 81.93 625.77 81.48 625.70C81.02 625.63 80.40 625.75 79.93 625.65C79.46 625.54 79.01 625.35 78.67 625.08C78.33 624.81 78.08 624.41 77.88 624.01C77.69 623.62 77.66 623.10 77.49 622.70C77.32 622.29 77.00 621.99 76.87 621.59C76.73 621.19 76.75 620.71 76.69 620.29C76.63 619.87 76.57 619.47 76.49 619.07C76.41 618.67 76.37 618.29 76.20 617.92C76.03 617.54 75.65 617.22 75.46 616.84C75.27 616.46 75.10 616.05 75.05 615.65C75.00 615.24 75.05 614.81 75.16 614.40C75.26 613.99 75.56 613.60 75.70 613.21C75.84 612.82 75.94 612.45 75.98 612.05C76.02 611.65 76.00 611.25 75.95 610.82C75.90 610.38 75.69 609.89 75.69 609.44C75.68 609.00 75.82 608.58 75.92 608.15C76.01 607.72 76.13 607.30 76.25 606.86C76.37 606.41 76.40 605.89 76.62 605.50C76.83 605.11 77.15 604.76 77.54 604.50C77.92 604.24 78.45 604.11 78.92 603.97C79.39 603.82 80.00 603.90 80.34 603.63C80.67 603.36 80.68 602.71 80.94 602.34C81.20 601.97 81.53 601.64 81.91 601.43C82.28 601.22 82.74 601.10 83.20 601.07C83.65 601.04 84.20 601.24 84.64 601.24C85.09 601.23 85.46 601.05 85.87 601.05C86.29 601.06 86.73 601.12 87.15 601.27C87.57 601.41 88.00 601.79 88.39 601.91C88.78 602.03 89.13 602.03 89.50 601.98C89.87 601.92 90.25 601.69 90.64 601.56C91.03 601.44 91.46 601.26 91.85 601.23C92.25 601.20 92.67 601.25 93.04 601.39C93.40 601.52 93.73 601.82 94.07 602.03C94.41 602.23 94.73 602.44 95.07 602.61C95.42 602.79 95.74 602.96 96.13 603.07C96.52 603.19 96.98 603.18 97.40 603.28C97.81 603.38 98.23 603.51 98.62 603.68C99.01 603.85 99.34 604.10 99.75 604.29C100.16 604.48 100.71 604.57 101.07 604.82C101.44 605.07 101.76 605.41 101.96 605.79C102.16 606.18 102.26 606.65 102.29 607.12C102.32 607.58 102.04 608.17 102.16 608.58C102.27 608.98 102.70 609.22 102.98 609.56C103.27 609.90 103.67 610.22 103.89 610.60C104.10 610.98 104.22 611.41 104.26 611.83C104.29 612.26 104.11 612.71 104.10 613.14C104.09 613.57 104.20 613.98 104.19 614.40Z" fill="#e0520e" stroke="#9a3204" stroke-width="1.1" stroke-linejoin="round"/><text x="60.4" y="614.7" font-size="7.25" font-weight="bold" text-anchor="middle" fill="#f2f2f2">PRC2</text><text x="90.3" y="615.9" font-size="7.25" font-weight="bold" text-anchor="middle" fill="#f2f2f2">PRC1</text><path d="M110.3 630 V605 H118.1" fill="none" stroke="#333" stroke-width="1.5"/><path d="M118.1 598.5 V611" fill="none" stroke="#333" stroke-width="1.6"/><path d="M65.81 681.00C65.86 681.51 65.89 682.03 65.86 682.54C65.83 683.05 65.76 683.57 65.64 684.06C65.52 684.55 65.36 685.03 65.16 685.48C64.96 685.93 64.67 686.34 64.46 686.77C64.26 687.20 64.09 687.63 63.94 688.08C63.80 688.54 63.75 689.06 63.61 689.53C63.46 689.99 63.29 690.46 63.09 690.88C62.88 691.31 62.63 691.71 62.36 692.08C62.09 692.44 61.78 692.77 61.46 693.06C61.13 693.34 60.77 693.59 60.41 693.80C60.05 694.00 59.64 694.11 59.29 694.31C58.93 694.50 58.64 694.79 58.30 694.98C57.96 695.18 57.61 695.35 57.25 695.48C56.90 695.61 56.52 695.66 56.16 695.77C55.80 695.88 55.47 696.02 55.12 696.14C54.77 696.27 54.42 696.41 54.07 696.51C53.71 696.60 53.35 696.59 52.99 696.69C52.63 696.79 52.27 697.02 51.90 697.12C51.53 697.23 51.15 697.31 50.77 697.33C50.39 697.36 50.00 697.33 49.63 697.26C49.25 697.18 48.88 697.05 48.53 696.87C48.18 696.70 47.83 696.47 47.51 696.21C47.19 695.96 46.91 695.60 46.60 695.34C46.29 695.09 45.95 694.92 45.63 694.69C45.31 694.47 45.00 694.23 44.67 694.02C44.35 693.80 43.98 693.64 43.66 693.39C43.34 693.15 43.03 692.85 42.76 692.53C42.48 692.21 42.23 691.85 42.01 691.47C41.79 691.09 41.64 690.64 41.42 690.26C41.20 689.87 40.91 689.55 40.70 689.16C40.48 688.77 40.28 688.36 40.13 687.93C39.97 687.49 39.84 687.04 39.76 686.58C39.67 686.11 39.62 685.63 39.60 685.16C39.58 684.68 39.60 684.20 39.63 683.73C39.66 683.26 39.83 682.79 39.78 682.34C39.72 681.88 39.44 681.46 39.31 681.00C39.18 680.54 39.06 680.06 38.98 679.57C38.90 679.09 38.85 678.59 38.84 678.09C38.83 677.60 38.86 677.10 38.92 676.61C38.99 676.13 39.09 675.64 39.23 675.18C39.36 674.72 39.59 674.30 39.73 673.84C39.88 673.38 39.94 672.87 40.10 672.41C40.25 671.94 40.44 671.49 40.66 671.07C40.88 670.66 41.14 670.26 41.42 669.91C41.70 669.55 42.05 669.28 42.35 668.96C42.65 668.63 42.92 668.27 43.22 667.95C43.52 667.63 43.85 667.37 44.15 667.04C44.45 666.71 44.71 666.29 45.02 665.97C45.33 665.65 45.67 665.35 46.03 665.12C46.39 664.89 46.77 664.70 47.16 664.58C47.55 664.46 47.97 664.39 48.37 664.38C48.78 664.38 49.19 664.43 49.60 664.52C50.00 664.62 50.40 664.84 50.79 664.94C51.17 665.05 51.54 665.05 51.90 665.15C52.26 665.25 52.62 665.42 52.97 665.55C53.32 665.67 53.66 665.80 54.01 665.91C54.35 666.02 54.71 666.08 55.04 666.21C55.38 666.34 55.71 666.51 56.03 666.70C56.34 666.89 56.62 667.17 56.95 667.35C57.27 667.52 57.63 667.58 57.97 667.74C58.30 667.90 58.63 668.09 58.94 668.31C59.25 668.53 59.56 668.79 59.83 669.08C60.11 669.36 60.36 669.69 60.60 670.03C60.83 670.37 61.04 670.74 61.23 671.12C61.42 671.50 61.53 671.95 61.74 672.31C61.95 672.67 62.22 672.96 62.51 673.27C62.80 673.58 63.18 673.85 63.48 674.19C63.78 674.53 64.07 674.90 64.31 675.30C64.55 675.70 64.77 676.14 64.94 676.59C65.11 677.04 65.24 677.53 65.34 678.01C65.44 678.49 65.43 679.00 65.51 679.50C65.59 680.00 65.75 680.49 65.81 681.00Z" fill="#4b4bd4" stroke="#2a2a8a" stroke-width="1.1" stroke-linejoin="round"/><text x="51.8" y="685.3" font-size="7.25" font-weight="bold" text-anchor="middle" fill="#f2f2f2">PRC2</text><path d="M70.2 699.6 V675 H78.2" fill="none" stroke="#333" stroke-width="1.5"/><path d="M78.2 668 V680" fill="none" stroke="#333" stroke-width="1.6"/><path d="M114.41 683.90C114.42 684.26 114.66 684.61 114.77 684.98C114.89 685.35 115.06 685.75 115.10 686.12C115.13 686.50 115.01 686.87 114.96 687.25C114.91 687.62 114.85 688.00 114.81 688.40C114.77 688.79 114.83 689.24 114.71 689.62C114.59 689.99 114.37 690.35 114.09 690.65C113.80 690.94 113.31 691.11 112.99 691.38C112.68 691.64 112.33 691.84 112.18 692.23C112.03 692.62 112.19 693.28 112.08 693.73C111.96 694.19 111.76 694.63 111.48 694.97C111.20 695.30 110.82 695.57 110.41 695.75C109.99 695.92 109.43 695.89 109.01 696.04C108.58 696.19 108.27 696.51 107.85 696.64C107.43 696.77 106.96 696.80 106.51 696.82C106.06 696.84 105.58 696.73 105.14 696.76C104.71 696.79 104.32 696.87 103.91 697.00C103.50 697.12 103.11 697.38 102.69 697.52C102.28 697.67 101.83 697.83 101.40 697.86C100.97 697.88 100.51 697.82 100.09 697.67C99.67 697.53 99.28 697.21 98.89 696.99C98.51 696.77 98.15 696.54 97.78 696.35C97.41 696.17 97.07 695.96 96.67 695.88C96.26 695.79 95.76 695.94 95.35 695.86C94.94 695.78 94.56 695.58 94.20 695.39C93.83 695.21 93.52 694.94 93.15 694.75C92.78 694.56 92.30 694.49 91.96 694.26C91.63 694.02 91.35 693.70 91.16 693.33C90.97 692.97 90.88 692.50 90.84 692.06C90.80 691.61 91.10 690.99 90.91 690.67C90.72 690.34 90.09 690.33 89.71 690.11C89.34 689.90 88.94 689.66 88.67 689.37C88.41 689.07 88.21 688.72 88.10 688.36C87.99 688.00 88.10 687.57 88.01 687.20C87.93 686.83 87.70 686.50 87.60 686.14C87.50 685.78 87.40 685.40 87.41 685.03C87.42 684.65 87.63 684.27 87.65 683.90C87.68 683.53 87.70 683.18 87.57 682.79C87.45 682.39 87.13 681.98 86.91 681.55C86.69 681.11 86.37 680.62 86.25 680.16C86.14 679.70 86.11 679.23 86.20 678.80C86.29 678.38 86.55 678.00 86.78 677.62C87.02 677.25 87.34 676.92 87.59 676.55C87.83 676.19 88.02 675.80 88.26 675.43C88.49 675.05 88.74 674.69 89.00 674.31C89.25 673.94 89.45 673.51 89.77 673.19C90.09 672.86 90.55 672.68 90.89 672.37C91.24 672.06 91.46 671.59 91.84 671.32C92.21 671.05 92.68 670.85 93.17 670.76C93.65 670.68 94.22 670.71 94.77 670.80C95.31 670.89 95.94 671.25 96.43 671.32C96.92 671.40 97.31 671.35 97.71 671.23C98.12 671.12 98.46 670.77 98.86 670.64C99.26 670.51 99.70 670.45 100.12 670.46C100.55 670.47 100.98 670.65 101.40 670.70C101.82 670.75 102.23 670.73 102.65 670.75C103.07 670.77 103.50 670.73 103.90 670.84C104.30 670.94 104.69 671.14 105.05 671.37C105.40 671.60 105.63 672.08 106.02 672.22C106.40 672.35 106.86 672.21 107.34 672.17C107.82 672.12 108.40 671.95 108.88 671.97C109.36 671.99 109.85 672.08 110.24 672.28C110.63 672.47 110.95 672.79 111.23 673.11C111.50 673.44 111.64 673.90 111.89 674.24C112.14 674.57 112.53 674.79 112.75 675.13C112.96 675.48 112.98 675.95 113.18 676.30C113.37 676.66 113.71 676.91 113.90 677.25C114.10 677.59 114.14 678.00 114.35 678.34C114.57 678.68 114.98 678.93 115.19 679.28C115.40 679.62 115.57 680.00 115.62 680.39C115.66 680.78 115.59 681.21 115.44 681.62C115.30 682.02 114.94 682.44 114.77 682.82C114.60 683.20 114.41 683.54 114.41 683.90Z" fill="#e0520e" stroke="#9a3204" stroke-width="1.1" stroke-linejoin="round"/><text x="101.0" y="686.6" font-size="7.25" font-weight="bold" text-anchor="middle" fill="#f2f2f2">PRC1</text><path d="M121.6 698.9 V674.8 H129.2" fill="none" stroke="#333" stroke-width="1.5"/><path d="M129.2 668.3 V680.8" fill="none" stroke="#333" stroke-width="1.6"/><path d="M184.14 630.00C184.18 630.44 184.28 630.87 184.31 631.32C184.35 631.76 184.33 632.21 184.34 632.66C184.35 633.12 184.36 633.58 184.38 634.06C184.40 634.54 184.47 635.05 184.46 635.55C184.44 636.04 184.40 636.55 184.31 637.03C184.22 637.51 184.09 637.98 183.93 638.43C183.76 638.87 183.54 639.30 183.31 639.69C183.07 640.08 182.77 640.42 182.50 640.78C182.22 641.13 181.93 641.47 181.66 641.82C181.38 642.17 181.10 642.50 180.84 642.89C180.58 643.29 180.38 643.78 180.11 644.17C179.83 644.56 179.52 644.93 179.19 645.23C178.85 645.54 178.48 645.80 178.10 646.02C177.72 646.23 177.31 646.36 176.91 646.50C176.51 646.65 176.10 646.77 175.70 646.89C175.29 647.01 174.89 647.18 174.48 647.25C174.07 647.31 173.65 647.33 173.24 647.29C172.82 647.26 172.40 647.16 172.00 647.02C171.60 646.88 171.20 646.69 170.82 646.46C170.45 646.24 170.10 645.87 169.74 645.68C169.38 645.48 169.02 645.39 168.65 645.30C168.28 645.21 167.88 645.23 167.50 645.14C167.12 645.05 166.74 644.93 166.37 644.77C166.01 644.61 165.65 644.40 165.32 644.16C164.99 643.92 164.67 643.63 164.38 643.32C164.09 643.01 163.83 642.64 163.57 642.30C163.30 641.95 163.05 641.61 162.79 641.27C162.52 640.94 162.23 640.64 161.98 640.29C161.73 639.94 161.51 639.56 161.32 639.16C161.12 638.76 160.99 638.31 160.83 637.89C160.67 637.48 160.52 637.06 160.35 636.65C160.19 636.23 160.01 635.83 159.84 635.42C159.67 635.00 159.50 634.58 159.32 634.16C159.15 633.73 158.92 633.30 158.78 632.85C158.63 632.40 158.51 631.93 158.45 631.45C158.38 630.98 158.36 630.48 158.38 630.00C158.40 629.52 158.47 629.03 158.58 628.56C158.68 628.10 158.86 627.64 159.00 627.20C159.15 626.75 159.31 626.32 159.45 625.89C159.60 625.45 159.71 625.01 159.86 624.59C160.00 624.17 160.21 623.78 160.35 623.35C160.49 622.92 160.55 622.45 160.70 622.02C160.85 621.59 161.03 621.17 161.24 620.78C161.44 620.38 161.70 620.03 161.93 619.66C162.16 619.28 162.40 618.92 162.63 618.53C162.86 618.15 163.07 617.72 163.33 617.35C163.59 616.98 163.87 616.64 164.18 616.33C164.49 616.03 164.83 615.76 165.17 615.53C165.52 615.30 165.90 615.12 166.28 614.97C166.65 614.83 167.05 614.76 167.43 614.65C167.82 614.54 168.20 614.52 168.57 614.33C168.93 614.14 169.26 613.75 169.62 613.50C169.99 613.25 170.38 613.00 170.77 612.83C171.17 612.65 171.59 612.52 172.00 612.46C172.41 612.39 172.84 612.38 173.26 612.42C173.67 612.46 174.08 612.59 174.49 612.70C174.90 612.82 175.30 612.96 175.70 613.09C176.10 613.23 176.52 613.33 176.90 613.52C177.28 613.71 177.66 613.96 178.00 614.25C178.34 614.54 178.67 614.89 178.95 615.26C179.24 615.64 179.47 616.10 179.72 616.50C179.98 616.90 180.21 617.30 180.47 617.65C180.73 618.01 181.01 618.31 181.29 618.63C181.57 618.96 181.88 619.24 182.14 619.59C182.40 619.93 182.64 620.31 182.85 620.71C183.05 621.10 183.22 621.53 183.36 621.97C183.50 622.41 183.59 622.88 183.66 623.34C183.73 623.81 183.74 624.29 183.77 624.75C183.81 625.21 183.83 625.66 183.88 626.10C183.93 626.54 184.02 626.96 184.06 627.40C184.10 627.83 184.10 628.27 184.11 628.70C184.12 629.14 184.11 629.56 184.14 630.00Z" fill="#4b4bd4" stroke="#2a2a8a" stroke-width="1.1" stroke-linejoin="round"/><text x="172.0" y="633.0" font-size="7.25" font-weight="bold" text-anchor="middle" fill="#f2f2f2">PRC2</text><path d="M215.04 633.20C214.80 633.60 214.31 633.97 214.12 634.35C213.92 634.73 213.85 635.07 213.86 635.47C213.88 635.87 214.17 636.32 214.21 636.74C214.25 637.16 214.21 637.58 214.10 637.97C213.98 638.35 213.68 638.66 213.51 639.04C213.35 639.41 213.27 639.82 213.11 640.19C212.94 640.56 212.78 640.96 212.51 641.26C212.24 641.56 211.87 641.81 211.47 641.98C211.07 642.16 210.43 642.08 210.12 642.32C209.80 642.55 209.73 642.99 209.55 643.39C209.38 643.79 209.29 644.34 209.06 644.72C208.84 645.09 208.53 645.43 208.19 645.66C207.85 645.88 207.41 645.98 207.01 646.08C206.60 646.18 206.15 646.15 205.75 646.25C205.35 646.35 205.01 646.61 204.62 646.69C204.22 646.77 203.79 646.67 203.38 646.73C202.98 646.78 202.61 646.95 202.21 647.04C201.81 647.14 201.42 647.14 201.00 647.32C200.58 647.50 200.14 647.94 199.69 648.14C199.24 648.33 198.76 648.47 198.30 648.49C197.85 648.50 197.39 648.41 196.97 648.23C196.56 648.06 196.21 647.66 195.82 647.44C195.43 647.21 195.04 647.03 194.62 646.89C194.19 646.75 193.71 646.72 193.25 646.62C192.79 646.52 192.26 646.48 191.85 646.27C191.43 646.07 191.12 645.70 190.76 645.40C190.41 645.10 190.06 644.80 189.73 644.47C189.40 644.15 189.01 643.85 188.79 643.44C188.57 643.03 188.44 642.53 188.40 642.02C188.37 641.51 188.54 640.88 188.58 640.37C188.62 639.86 188.78 639.35 188.64 638.96C188.51 638.57 187.99 638.36 187.77 638.02C187.54 637.67 187.37 637.27 187.29 636.87C187.22 636.47 187.26 636.03 187.34 635.61C187.42 635.19 187.70 634.76 187.76 634.36C187.83 633.96 187.67 633.58 187.71 633.20C187.75 632.82 187.86 632.43 188.00 632.06C188.14 631.70 188.46 631.37 188.56 631.01C188.65 630.64 188.63 630.28 188.56 629.87C188.49 629.45 188.24 628.98 188.15 628.52C188.07 628.07 187.98 627.58 188.03 627.15C188.09 626.73 188.25 626.32 188.49 625.98C188.73 625.64 189.16 625.41 189.47 625.13C189.79 624.85 190.07 624.56 190.37 624.28C190.68 624.01 191.03 623.81 191.29 623.49C191.54 623.17 191.64 622.68 191.90 622.36C192.16 622.03 192.51 621.80 192.84 621.55C193.18 621.31 193.55 621.12 193.89 620.89C194.23 620.65 194.52 620.29 194.90 620.12C195.28 619.96 195.72 619.89 196.16 619.91C196.60 619.93 197.09 620.09 197.53 620.25C197.98 620.42 198.44 620.88 198.83 620.89C199.22 620.90 199.51 620.49 199.87 620.30C200.23 620.11 200.61 619.86 201.00 619.75C201.39 619.63 201.80 619.60 202.19 619.63C202.58 619.66 202.94 619.89 203.34 619.93C203.74 619.97 204.17 619.83 204.58 619.86C204.98 619.88 205.40 619.94 205.77 620.10C206.13 620.26 206.44 620.59 206.78 620.81C207.11 621.03 207.39 621.32 207.80 621.42C208.21 621.52 208.77 621.38 209.27 621.40C209.76 621.42 210.34 621.40 210.79 621.54C211.23 621.68 211.65 621.92 211.96 622.24C212.27 622.55 212.45 623.02 212.65 623.43C212.85 623.83 212.99 624.27 213.17 624.68C213.35 625.08 213.57 625.45 213.73 625.85C213.89 626.25 213.96 626.69 214.11 627.09C214.27 627.48 214.52 627.83 214.66 628.23C214.80 628.62 214.80 629.06 214.94 629.47C215.08 629.87 215.41 630.23 215.51 630.64C215.61 631.05 215.63 631.50 215.55 631.93C215.47 632.35 215.28 632.80 215.04 633.20Z" fill="#f4bd9c" stroke="#d09a78" stroke-width="1.1" stroke-linejoin="round"/><text x="201.0" y="636.0" font-size="7.25" font-weight="bold" text-anchor="middle" fill="#fce6da">PRC1</text><path d="M220.5 648 V623 H228" fill="none" stroke="#111" stroke-width="1.5"/><path d="M227.5 619.5 L234.2 623 L227.5 626.5 Z" fill="#111"/><path d="M184.25 672.70C184.26 673.12 184.23 673.55 184.16 673.97C184.10 674.38 184.00 674.80 183.87 675.20C183.75 675.59 183.55 675.97 183.42 676.35C183.28 676.74 183.17 677.12 183.07 677.52C182.98 677.92 182.91 678.32 182.84 678.75C182.77 679.17 182.75 679.64 182.65 680.06C182.55 680.49 182.42 680.91 182.25 681.31C182.08 681.70 181.88 682.08 181.64 682.42C181.41 682.77 181.12 683.06 180.86 683.39C180.60 683.71 180.37 684.07 180.10 684.39C179.83 684.71 179.56 685.04 179.25 685.31C178.95 685.58 178.61 685.82 178.26 686.01C177.91 686.20 177.54 686.35 177.16 686.46C176.78 686.56 176.39 686.61 176.00 686.65C175.61 686.68 175.21 686.58 174.84 686.67C174.48 686.77 174.17 687.04 173.82 687.22C173.47 687.39 173.11 687.59 172.74 687.73C172.37 687.86 171.98 687.96 171.60 688.02C171.22 688.07 170.82 688.08 170.44 688.05C170.05 688.02 169.66 687.94 169.29 687.82C168.92 687.71 168.56 687.51 168.19 687.37C167.83 687.23 167.45 687.14 167.09 687.01C166.72 686.87 166.35 686.74 166.00 686.56C165.65 686.38 165.31 686.16 164.99 685.91C164.67 685.66 164.41 685.32 164.10 685.06C163.79 684.80 163.45 684.59 163.14 684.34C162.83 684.08 162.55 683.78 162.23 683.51C161.92 683.24 161.58 683.00 161.26 682.71C160.94 682.43 160.61 682.14 160.33 681.80C160.06 681.47 159.80 681.09 159.60 680.70C159.39 680.30 159.23 679.87 159.10 679.42C158.98 678.98 158.91 678.51 158.87 678.05C158.83 677.58 158.88 677.09 158.88 676.63C158.87 676.17 158.85 675.74 158.85 675.29C158.85 674.85 158.89 674.41 158.90 673.98C158.92 673.55 158.92 673.13 158.94 672.70C158.95 672.27 158.94 671.85 158.99 671.43C159.03 671.01 159.12 670.59 159.23 670.18C159.34 669.78 159.53 669.40 159.65 669.01C159.77 668.61 159.86 668.21 159.98 667.82C160.09 667.42 160.20 667.02 160.35 666.65C160.50 666.27 160.69 665.91 160.89 665.57C161.10 665.23 161.34 664.91 161.60 664.62C161.85 664.33 162.13 664.06 162.42 663.81C162.71 663.57 163.05 663.40 163.32 663.14C163.59 662.89 163.82 662.62 164.02 662.28C164.23 661.94 164.36 661.48 164.57 661.11C164.77 660.73 165.00 660.36 165.26 660.03C165.51 659.69 165.80 659.38 166.11 659.10C166.41 658.83 166.74 658.59 167.08 658.39C167.43 658.18 167.80 658.06 168.16 657.89C168.52 657.71 168.88 657.49 169.25 657.32C169.62 657.16 170.01 656.98 170.40 656.88C170.79 656.78 171.20 656.72 171.60 656.71C172.00 656.71 172.41 656.76 172.80 656.86C173.19 656.95 173.57 657.17 173.96 657.28C174.34 657.39 174.73 657.44 175.13 657.51C175.52 657.57 175.94 657.59 176.34 657.67C176.74 657.75 177.16 657.83 177.55 657.98C177.94 658.12 178.32 658.32 178.67 658.57C179.02 658.81 179.35 659.11 179.65 659.44C179.94 659.77 180.21 660.15 180.43 660.55C180.66 660.95 180.83 661.42 181.03 661.82C181.22 662.23 181.43 662.61 181.62 663.00C181.80 663.40 181.99 663.78 182.13 664.19C182.27 664.60 182.34 665.05 182.47 665.46C182.59 665.87 182.75 666.24 182.87 666.63C183.00 667.03 183.15 667.41 183.25 667.81C183.35 668.21 183.38 668.63 183.48 669.03C183.57 669.43 183.71 669.81 183.82 670.21C183.93 670.61 184.06 671.02 184.13 671.44C184.20 671.85 184.25 672.28 184.25 672.70Z" fill="#c6caf0" stroke="#8e94c4" stroke-width="1.1" stroke-linejoin="round"/><text x="171.6" y="675.5" font-size="7.25" font-weight="bold" text-anchor="middle" fill="#e6e8fa">PRC2</text><path d="M213.40 676.00C213.34 676.38 213.14 676.77 212.97 677.13C212.79 677.49 212.43 677.81 212.35 678.18C212.27 678.55 212.42 678.93 212.50 679.35C212.58 679.76 212.82 680.24 212.84 680.66C212.86 681.08 212.78 681.50 212.63 681.88C212.48 682.25 212.10 682.52 211.92 682.89C211.73 683.26 211.72 683.74 211.50 684.09C211.29 684.44 210.99 684.77 210.61 685.00C210.24 685.23 209.74 685.36 209.27 685.47C208.80 685.58 208.16 685.46 207.79 685.65C207.43 685.85 207.36 686.33 207.10 686.64C206.84 686.96 206.58 687.31 206.24 687.53C205.91 687.74 205.50 687.88 205.08 687.94C204.66 687.99 204.16 687.88 203.73 687.85C203.30 687.82 202.88 687.78 202.48 687.76C202.08 687.74 201.71 687.81 201.32 687.75C200.94 687.68 200.54 687.41 200.17 687.39C199.80 687.37 199.46 687.55 199.10 687.63C198.74 687.72 198.38 687.75 197.98 687.89C197.59 688.03 197.16 688.35 196.74 688.47C196.32 688.59 195.88 688.65 195.47 688.62C195.06 688.59 194.66 688.45 194.30 688.27C193.94 688.10 193.68 687.73 193.31 687.56C192.94 687.40 192.55 687.34 192.10 687.30C191.64 687.26 191.08 687.36 190.59 687.32C190.10 687.28 189.59 687.20 189.16 687.03C188.74 686.86 188.46 686.52 188.06 686.28C187.66 686.05 187.16 685.89 186.79 685.62C186.41 685.35 186.04 685.04 185.82 684.66C185.59 684.29 185.47 683.82 185.43 683.35C185.40 682.88 185.66 682.30 185.61 681.86C185.57 681.42 185.38 681.09 185.17 680.72C184.95 680.36 184.51 680.06 184.32 679.69C184.12 679.32 184.00 678.90 183.99 678.48C183.97 678.07 184.12 677.63 184.22 677.21C184.33 676.80 184.53 676.40 184.62 676.00C184.72 675.60 184.67 675.21 184.80 674.83C184.93 674.46 185.20 674.10 185.40 673.75C185.61 673.40 185.88 673.09 186.04 672.74C186.19 672.39 186.29 672.06 186.31 671.67C186.34 671.27 186.13 670.79 186.16 670.38C186.19 669.97 186.29 669.56 186.48 669.21C186.68 668.87 186.99 668.57 187.35 668.33C187.70 668.10 188.25 668.01 188.62 667.81C188.99 667.60 189.24 667.33 189.55 667.11C189.87 666.88 190.23 666.72 190.51 666.46C190.79 666.20 190.95 665.79 191.24 665.55C191.54 665.30 191.94 665.19 192.27 664.99C192.61 664.78 192.91 664.52 193.25 664.31C193.59 664.11 193.93 663.85 194.31 663.75C194.70 663.64 195.14 663.63 195.56 663.69C195.98 663.75 196.44 663.97 196.85 664.10C197.26 664.24 197.65 664.57 198.02 664.51C198.40 664.45 198.72 663.94 199.10 663.75C199.48 663.55 199.89 663.38 200.29 663.32C200.69 663.25 201.10 663.29 201.49 663.35C201.89 663.41 202.24 663.62 202.64 663.69C203.04 663.75 203.50 663.65 203.89 663.74C204.28 663.83 204.67 664.00 204.99 664.24C205.30 664.48 205.51 664.92 205.81 665.18C206.11 665.43 206.38 665.66 206.79 665.77C207.19 665.88 207.78 665.77 208.24 665.86C208.69 665.95 209.15 666.08 209.50 666.31C209.85 666.54 210.14 666.86 210.34 667.22C210.53 667.57 210.54 668.07 210.67 668.45C210.80 668.84 210.98 669.18 211.10 669.54C211.23 669.91 211.29 670.30 211.42 670.65C211.54 671.00 211.72 671.33 211.87 671.67C212.01 672.01 212.15 672.36 212.30 672.70C212.45 673.05 212.60 673.40 212.77 673.75C212.95 674.11 213.24 674.47 213.34 674.84C213.45 675.21 213.47 675.62 213.40 676.00Z" fill="#e0520e" stroke="#9a3204" stroke-width="1.1" stroke-linejoin="round"/><text x="199.3" y="678.6" font-size="7.25" font-weight="bold" text-anchor="middle" fill="#f2f2f2">PRC1</text><path d="M220.5 695 V668.7 H229.5" fill="none" stroke="#333" stroke-width="1.5"/><path d="M229.5 662 V673.8" fill="none" stroke="#333" stroke-width="1.6"/><path d="M140.5 613 V619.0" stroke="#981822" stroke-width="1.0"/><path d="M138.7 618.5 L140.5 621.5 L142.3 618.5 Z" fill="#981822"/><text x="144.5" y="617.3" font-size="5.2" font-weight="bold" font-style="italic" fill="#111">Bmi1</text><path d="M140.8 656.5 V663.0" stroke="#981822" stroke-width="1.0"/><path d="M139.0 662.5 L140.8 665.5 L142.60000000000002 662.5 Z" fill="#981822"/><text x="144.8" y="660.8" font-size="5.2" font-weight="bold" font-style="italic" fill="#111">Suz12</text></svg>
<div class="ttl">Romer analysis of Broad Institute Genesets</div>
<div class="l h" style="top:285.03px">PRC1 vs PRC2</div>
<div class="l b" style="top:297.16px">Positive correlation, up-regulated in both <i>Bmi1</i> and <i>Suz12</i> depleted LSK cells (<span style="color:#3a3a9c">blue</span>)</div>
<div class="l r" style="top:308.66px">E2F target genes (5 gene sets, 0.005 &lt; <i>P</i> &lt; .05)</div>
<div class="l r" style="top:319.96px">Genes activated by C/EBP transcription factors (1 gene set, 69 genes, <i>P</i> &lt; .05)</div>
<div class="l b" style="top:338.36px">Negative correlation, up-regulated in <i>Suz12</i> depleted, downregulated in <i>Bmi1</i> deficient LSK cells (<span style="color:#d42020">red</span>)</div>
<div class="l r" style="top:349.76px"><i>Hox</i> genes (1 gene set, 25 genes, <i>P</i> &lt; .05)</div>
<div class="l r" style="top:361.16px">Genes activated by HoxA9 (1 gene set, 69 genes, <i>P</i> &lt; .05)</div>
<div class="l b" style="top:379.36px">Negative correlation, down-regulated in <i>Suz12</i> depleted, upregulated in <i>Bmi1</i> deficient LSK cells (<span style="color:#e8b010">yellow</span>)</div>
<div class="l r" style="top:391.06px">Genes up-regulated in <i>Dnmt1</i> knockout cells (1 gene set, 49 genes, <i>P</i> &lt; .0001)</div>
<div class="l r" style="top:402.46px">Genes repressed by C/EBP<span style="font-family:&quot;Liberation Serif&quot;,serif;font-size:10.5px">&alpha;</span> (1 gene set, 24 genes, <i>P</i> &lt; .05)</div>
<div class="l r" style="top:413.86px">IL6 responsive genes (2 gene sets, <i>P</i> &lt; .05)</div>
<div class="l r" style="top:425.26px">Genes repressed by HoxA9 (1 gene set, 24 genes, <i>P</i> &lt; .05)</div>
<div class="l h" style="top:445.13px">PhoRC vs PRC1</div>
<div class="l b" style="top:457.46px">Positive correlation, up-regulated in both Bmi1 and Yy1 depleted LSK cells</div>
<div class="l r" style="top:468.86px">Genes activated by C/EBP transcription factors (1 gene set, 69 genes, <i>P</i> &lt; .05)</div>
<div class="l r" style="top:480.26px">Genes up-regulated in <i>Dnmt1</i> knockout cells (1 gene set, 49 genes, <i>P</i> &lt; .05)</div>
<div class="l r" style="top:491.66px">Genes involved in oxidative phosphorylation or induced by hypoxia (2 gene sets, <i>P</i> &lt; .05)</div>
<div class="l b" style="top:509.66px">Positivie correlation, down-regulated in both <i>Bmi1</i> and <i>Yy1</i> depleted LSK cells</div>
<div class="l r" style="top:521.16px">Hematopoiesis related transcription factors (3 gene sets, 0.01 &lt; <i>P</i> &lt; .05)</div>
<div class="l r" style="top:532.66px"><i>Hox</i> genes (1 gene set, 25 genes, <i>P</i> &lt; .05)</div>
</body></html>
